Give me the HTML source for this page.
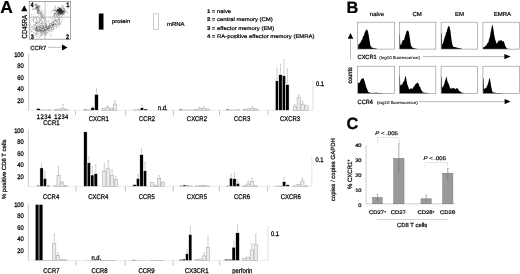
<!DOCTYPE html>
<html><head><meta charset="utf-8"><style>
html,body{margin:0;padding:0;background:#fff;width:520px;height:274px;overflow:hidden}
svg{display:block;font-family:"Liberation Sans",sans-serif;will-change:transform;text-rendering:geometricPrecision} text{stroke:#000;stroke-width:0.22px;paint-order:stroke}
</style></head><body>
<svg width="520" height="274" viewBox="0 0 520 274">
<text transform="translate(0.20,12.60) scale(1,1)" font-size="17.4" text-anchor="start" font-weight="bold" fill="#000" >A</text>
<circle cx="59.46" cy="12.43" r="0.5" fill="#333" opacity="0.45"/>
<circle cx="59.54" cy="10.61" r="0.5" fill="#333" opacity="0.45"/>
<circle cx="57.50" cy="10.83" r="0.5" fill="#333" opacity="0.45"/>
<circle cx="63.42" cy="12.23" r="0.5" fill="#333" opacity="0.45"/>
<circle cx="63.21" cy="11.85" r="0.5" fill="#333" opacity="0.45"/>
<circle cx="61.34" cy="11.71" r="0.5" fill="#333" opacity="0.45"/>
<circle cx="55.37" cy="13.18" r="0.5" fill="#333" opacity="0.45"/>
<circle cx="61.67" cy="12.40" r="0.5" fill="#333" opacity="0.45"/>
<circle cx="55.30" cy="7.46" r="0.5" fill="#333" opacity="0.45"/>
<circle cx="57.62" cy="10.27" r="0.5" fill="#333" opacity="0.45"/>
<circle cx="61.09" cy="11.20" r="0.5" fill="#333" opacity="0.45"/>
<circle cx="61.71" cy="9.89" r="0.5" fill="#333" opacity="0.45"/>
<circle cx="61.10" cy="12.17" r="0.5" fill="#333" opacity="0.45"/>
<circle cx="58.28" cy="15.08" r="0.5" fill="#333" opacity="0.45"/>
<circle cx="61.81" cy="13.93" r="0.5" fill="#333" opacity="0.45"/>
<circle cx="58.40" cy="9.67" r="0.5" fill="#333" opacity="0.45"/>
<circle cx="59.20" cy="11.07" r="0.5" fill="#333" opacity="0.45"/>
<circle cx="62.03" cy="11.85" r="0.5" fill="#333" opacity="0.45"/>
<circle cx="58.90" cy="9.19" r="0.5" fill="#333" opacity="0.45"/>
<circle cx="58.69" cy="13.99" r="0.5" fill="#333" opacity="0.45"/>
<circle cx="57.86" cy="11.84" r="0.5" fill="#333" opacity="0.45"/>
<circle cx="61.44" cy="8.02" r="0.5" fill="#333" opacity="0.45"/>
<circle cx="60.34" cy="14.17" r="0.5" fill="#333" opacity="0.45"/>
<circle cx="54.36" cy="10.59" r="0.5" fill="#333" opacity="0.45"/>
<circle cx="59.89" cy="9.50" r="0.5" fill="#333" opacity="0.45"/>
<circle cx="61.64" cy="11.16" r="0.5" fill="#333" opacity="0.45"/>
<circle cx="55.95" cy="13.12" r="0.5" fill="#333" opacity="0.45"/>
<circle cx="62.14" cy="13.38" r="0.5" fill="#333" opacity="0.45"/>
<circle cx="64.38" cy="12.10" r="0.5" fill="#333" opacity="0.45"/>
<circle cx="60.55" cy="8.44" r="0.5" fill="#333" opacity="0.45"/>
<circle cx="61.98" cy="9.95" r="0.5" fill="#333" opacity="0.45"/>
<circle cx="58.89" cy="8.52" r="0.5" fill="#333" opacity="0.45"/>
<circle cx="57.39" cy="10.13" r="0.5" fill="#333" opacity="0.45"/>
<circle cx="63.94" cy="6.83" r="0.5" fill="#333" opacity="0.45"/>
<circle cx="55.97" cy="11.83" r="0.5" fill="#333" opacity="0.45"/>
<circle cx="64.39" cy="12.57" r="0.5" fill="#333" opacity="0.45"/>
<circle cx="54.69" cy="5.76" r="0.5" fill="#333" opacity="0.45"/>
<circle cx="61.24" cy="9.68" r="0.5" fill="#333" opacity="0.45"/>
<circle cx="56.95" cy="13.45" r="0.5" fill="#333" opacity="0.45"/>
<circle cx="63.40" cy="11.65" r="0.5" fill="#333" opacity="0.45"/>
<circle cx="60.91" cy="12.26" r="0.5" fill="#333" opacity="0.45"/>
<circle cx="64.82" cy="12.66" r="0.5" fill="#333" opacity="0.45"/>
<circle cx="61.70" cy="12.51" r="0.5" fill="#333" opacity="0.45"/>
<circle cx="55.65" cy="14.12" r="0.5" fill="#333" opacity="0.45"/>
<circle cx="62.97" cy="12.47" r="0.5" fill="#333" opacity="0.45"/>
<circle cx="54.48" cy="9.91" r="0.5" fill="#333" opacity="0.45"/>
<circle cx="62.64" cy="7.32" r="0.5" fill="#333" opacity="0.45"/>
<circle cx="59.67" cy="13.54" r="0.5" fill="#333" opacity="0.45"/>
<circle cx="56.40" cy="14.84" r="0.5" fill="#333" opacity="0.45"/>
<circle cx="61.80" cy="10.97" r="0.5" fill="#333" opacity="0.45"/>
<circle cx="61.14" cy="12.73" r="0.5" fill="#333" opacity="0.45"/>
<circle cx="60.55" cy="13.82" r="0.5" fill="#333" opacity="0.45"/>
<circle cx="58.28" cy="10.39" r="0.5" fill="#333" opacity="0.45"/>
<circle cx="63.22" cy="11.36" r="0.5" fill="#333" opacity="0.45"/>
<circle cx="57.65" cy="13.38" r="0.5" fill="#333" opacity="0.45"/>
<circle cx="64.45" cy="10.32" r="0.5" fill="#333" opacity="0.45"/>
<circle cx="56.20" cy="11.00" r="0.5" fill="#333" opacity="0.45"/>
<circle cx="59.77" cy="10.64" r="0.5" fill="#333" opacity="0.45"/>
<circle cx="64.27" cy="9.04" r="0.5" fill="#333" opacity="0.45"/>
<circle cx="63.86" cy="8.51" r="0.5" fill="#333" opacity="0.45"/>
<circle cx="57.92" cy="12.69" r="0.5" fill="#333" opacity="0.45"/>
<circle cx="63.47" cy="13.19" r="0.5" fill="#333" opacity="0.45"/>
<circle cx="61.20" cy="11.61" r="0.5" fill="#333" opacity="0.45"/>
<circle cx="60.64" cy="12.57" r="0.5" fill="#333" opacity="0.45"/>
<circle cx="59.69" cy="11.91" r="0.5" fill="#333" opacity="0.45"/>
<circle cx="61.86" cy="11.30" r="0.5" fill="#333" opacity="0.45"/>
<circle cx="62.42" cy="12.54" r="0.5" fill="#333" opacity="0.45"/>
<circle cx="66.03" cy="12.01" r="0.5" fill="#333" opacity="0.45"/>
<circle cx="58.96" cy="10.48" r="0.5" fill="#333" opacity="0.45"/>
<circle cx="60.16" cy="13.33" r="0.5" fill="#333" opacity="0.45"/>
<circle cx="59.22" cy="12.15" r="0.5" fill="#333" opacity="0.45"/>
<circle cx="56.94" cy="11.84" r="0.5" fill="#333" opacity="0.45"/>
<circle cx="61.36" cy="11.82" r="0.5" fill="#333" opacity="0.45"/>
<circle cx="58.95" cy="12.74" r="0.5" fill="#333" opacity="0.45"/>
<circle cx="61.02" cy="10.15" r="0.5" fill="#333" opacity="0.45"/>
<circle cx="67.25" cy="12.08" r="0.5" fill="#333" opacity="0.45"/>
<circle cx="58.59" cy="11.08" r="0.5" fill="#333" opacity="0.45"/>
<circle cx="59.55" cy="11.16" r="0.5" fill="#333" opacity="0.45"/>
<circle cx="52.29" cy="10.23" r="0.5" fill="#333" opacity="0.45"/>
<circle cx="63.12" cy="8.73" r="0.5" fill="#333" opacity="0.45"/>
<circle cx="60.01" cy="13.40" r="0.5" fill="#333" opacity="0.45"/>
<circle cx="62.68" cy="14.58" r="0.5" fill="#333" opacity="0.45"/>
<circle cx="55.27" cy="10.52" r="0.5" fill="#333" opacity="0.45"/>
<circle cx="59.21" cy="12.67" r="0.5" fill="#333" opacity="0.45"/>
<circle cx="63.37" cy="5.40" r="0.5" fill="#333" opacity="0.45"/>
<circle cx="63.36" cy="8.12" r="0.5" fill="#333" opacity="0.45"/>
<circle cx="62.18" cy="8.02" r="0.5" fill="#333" opacity="0.45"/>
<circle cx="60.71" cy="13.93" r="0.5" fill="#333" opacity="0.45"/>
<circle cx="59.77" cy="11.72" r="0.5" fill="#333" opacity="0.45"/>
<circle cx="62.51" cy="11.61" r="0.5" fill="#333" opacity="0.45"/>
<circle cx="59.94" cy="14.67" r="0.5" fill="#333" opacity="0.45"/>
<circle cx="63.24" cy="10.65" r="0.5" fill="#333" opacity="0.45"/>
<circle cx="68.16" cy="8.78" r="0.5" fill="#333" opacity="0.45"/>
<circle cx="62.85" cy="10.72" r="0.5" fill="#333" opacity="0.45"/>
<circle cx="60.58" cy="12.85" r="0.5" fill="#333" opacity="0.45"/>
<circle cx="60.84" cy="12.71" r="0.5" fill="#333" opacity="0.45"/>
<circle cx="55.77" cy="7.98" r="0.5" fill="#333" opacity="0.45"/>
<circle cx="61.98" cy="9.18" r="0.5" fill="#333" opacity="0.45"/>
<circle cx="57.22" cy="8.07" r="0.5" fill="#333" opacity="0.45"/>
<circle cx="63.87" cy="12.94" r="0.5" fill="#333" opacity="0.45"/>
<circle cx="64.47" cy="9.24" r="0.5" fill="#333" opacity="0.45"/>
<circle cx="60.20" cy="8.79" r="0.5" fill="#333" opacity="0.45"/>
<circle cx="62.42" cy="14.80" r="0.5" fill="#333" opacity="0.45"/>
<circle cx="57.62" cy="14.73" r="0.5" fill="#333" opacity="0.45"/>
<circle cx="63.07" cy="10.91" r="0.5" fill="#333" opacity="0.45"/>
<circle cx="54.48" cy="14.39" r="0.5" fill="#333" opacity="0.45"/>
<circle cx="59.92" cy="9.97" r="0.5" fill="#333" opacity="0.45"/>
<circle cx="61.36" cy="12.20" r="0.5" fill="#333" opacity="0.45"/>
<circle cx="64.54" cy="9.06" r="0.5" fill="#333" opacity="0.45"/>
<circle cx="63.50" cy="14.57" r="0.5" fill="#333" opacity="0.45"/>
<circle cx="64.41" cy="10.90" r="0.5" fill="#333" opacity="0.45"/>
<circle cx="58.04" cy="13.54" r="0.5" fill="#333" opacity="0.45"/>
<circle cx="60.53" cy="11.57" r="0.5" fill="#333" opacity="0.45"/>
<circle cx="64.33" cy="10.72" r="0.5" fill="#333" opacity="0.45"/>
<circle cx="53.54" cy="10.45" r="0.5" fill="#333" opacity="0.45"/>
<circle cx="54.82" cy="13.10" r="0.5" fill="#333" opacity="0.45"/>
<circle cx="61.12" cy="9.96" r="0.5" fill="#333" opacity="0.45"/>
<circle cx="60.17" cy="13.13" r="0.5" fill="#333" opacity="0.45"/>
<circle cx="60.43" cy="14.22" r="0.5" fill="#333" opacity="0.45"/>
<circle cx="60.02" cy="13.59" r="0.5" fill="#333" opacity="0.45"/>
<circle cx="64.53" cy="14.84" r="0.5" fill="#333" opacity="0.45"/>
<circle cx="58.25" cy="13.24" r="0.5" fill="#333" opacity="0.45"/>
<circle cx="54.76" cy="8.92" r="0.5" fill="#333" opacity="0.45"/>
<circle cx="54.51" cy="13.65" r="0.5" fill="#333" opacity="0.45"/>
<circle cx="56.63" cy="11.27" r="0.5" fill="#333" opacity="0.45"/>
<circle cx="59.64" cy="11.24" r="0.5" fill="#333" opacity="0.45"/>
<circle cx="58.48" cy="11.81" r="0.5" fill="#333" opacity="0.45"/>
<circle cx="65.39" cy="11.40" r="0.5" fill="#333" opacity="0.45"/>
<circle cx="61.74" cy="13.50" r="0.5" fill="#333" opacity="0.45"/>
<circle cx="59.63" cy="8.53" r="0.5" fill="#333" opacity="0.45"/>
<circle cx="58.59" cy="13.66" r="0.5" fill="#333" opacity="0.45"/>
<circle cx="55.43" cy="9.98" r="0.5" fill="#333" opacity="0.45"/>
<circle cx="63.12" cy="13.04" r="0.5" fill="#333" opacity="0.45"/>
<circle cx="60.22" cy="13.07" r="0.5" fill="#333" opacity="0.45"/>
<circle cx="60.68" cy="8.71" r="0.5" fill="#333" opacity="0.45"/>
<circle cx="55.66" cy="9.89" r="0.5" fill="#333" opacity="0.45"/>
<circle cx="62.88" cy="10.06" r="0.5" fill="#333" opacity="0.45"/>
<circle cx="57.58" cy="9.60" r="0.5" fill="#333" opacity="0.45"/>
<circle cx="55.76" cy="11.04" r="0.5" fill="#333" opacity="0.45"/>
<circle cx="56.78" cy="12.10" r="0.5" fill="#333" opacity="0.45"/>
<circle cx="53.36" cy="12.02" r="0.5" fill="#333" opacity="0.45"/>
<circle cx="58.34" cy="7.03" r="0.5" fill="#333" opacity="0.45"/>
<circle cx="62.30" cy="10.69" r="0.5" fill="#333" opacity="0.45"/>
<circle cx="53.73" cy="9.37" r="0.5" fill="#333" opacity="0.45"/>
<circle cx="61.04" cy="10.29" r="0.5" fill="#333" opacity="0.45"/>
<circle cx="62.46" cy="12.94" r="0.5" fill="#333" opacity="0.45"/>
<circle cx="62.13" cy="12.02" r="0.5" fill="#333" opacity="0.45"/>
<circle cx="64.07" cy="12.75" r="0.5" fill="#333" opacity="0.45"/>
<circle cx="61.51" cy="6.72" r="0.5" fill="#333" opacity="0.45"/>
<circle cx="62.80" cy="14.18" r="0.5" fill="#333" opacity="0.45"/>
<circle cx="59.34" cy="10.27" r="0.5" fill="#333" opacity="0.45"/>
<circle cx="61.56" cy="16.63" r="0.5" fill="#333" opacity="0.45"/>
<circle cx="57.51" cy="12.82" r="0.5" fill="#333" opacity="0.45"/>
<circle cx="65.67" cy="11.04" r="0.5" fill="#333" opacity="0.45"/>
<circle cx="61.83" cy="13.29" r="0.5" fill="#333" opacity="0.45"/>
<circle cx="57.57" cy="11.10" r="0.5" fill="#333" opacity="0.45"/>
<circle cx="61.05" cy="13.12" r="0.5" fill="#333" opacity="0.45"/>
<circle cx="60.10" cy="10.87" r="0.5" fill="#333" opacity="0.45"/>
<circle cx="57.25" cy="10.51" r="0.5" fill="#333" opacity="0.45"/>
<circle cx="62.79" cy="11.52" r="0.5" fill="#333" opacity="0.45"/>
<circle cx="57.73" cy="9.45" r="0.5" fill="#333" opacity="0.45"/>
<circle cx="67.93" cy="13.81" r="0.5" fill="#333" opacity="0.45"/>
<circle cx="62.05" cy="5.60" r="0.5" fill="#333" opacity="0.45"/>
<circle cx="62.00" cy="12.36" r="0.5" fill="#333" opacity="0.45"/>
<circle cx="65.08" cy="12.24" r="0.5" fill="#333" opacity="0.45"/>
<circle cx="60.00" cy="12.45" r="0.5" fill="#333" opacity="0.45"/>
<circle cx="54.56" cy="13.57" r="0.5" fill="#333" opacity="0.45"/>
<circle cx="61.14" cy="9.76" r="0.5" fill="#333" opacity="0.45"/>
<circle cx="61.99" cy="12.97" r="0.5" fill="#222" opacity="0.6"/>
<circle cx="57.90" cy="10.00" r="0.5" fill="#222" opacity="0.6"/>
<circle cx="60.44" cy="11.02" r="0.5" fill="#222" opacity="0.6"/>
<circle cx="59.40" cy="9.63" r="0.5" fill="#222" opacity="0.6"/>
<circle cx="63.18" cy="12.04" r="0.5" fill="#222" opacity="0.6"/>
<circle cx="58.21" cy="9.19" r="0.5" fill="#222" opacity="0.6"/>
<circle cx="62.55" cy="11.99" r="0.5" fill="#222" opacity="0.6"/>
<circle cx="62.73" cy="11.77" r="0.5" fill="#222" opacity="0.6"/>
<circle cx="58.69" cy="11.11" r="0.5" fill="#222" opacity="0.6"/>
<circle cx="56.76" cy="9.90" r="0.5" fill="#222" opacity="0.6"/>
<circle cx="59.91" cy="11.43" r="0.5" fill="#222" opacity="0.6"/>
<circle cx="58.91" cy="10.65" r="0.5" fill="#222" opacity="0.6"/>
<circle cx="60.69" cy="11.25" r="0.5" fill="#222" opacity="0.6"/>
<circle cx="60.96" cy="11.05" r="0.5" fill="#222" opacity="0.6"/>
<circle cx="59.51" cy="11.75" r="0.5" fill="#222" opacity="0.6"/>
<circle cx="60.07" cy="9.81" r="0.5" fill="#222" opacity="0.6"/>
<circle cx="59.06" cy="10.80" r="0.5" fill="#222" opacity="0.6"/>
<circle cx="59.84" cy="10.99" r="0.5" fill="#222" opacity="0.6"/>
<circle cx="60.00" cy="11.01" r="0.5" fill="#222" opacity="0.6"/>
<circle cx="59.80" cy="9.29" r="0.5" fill="#222" opacity="0.6"/>
<circle cx="60.63" cy="12.06" r="0.5" fill="#222" opacity="0.6"/>
<circle cx="60.65" cy="10.57" r="0.5" fill="#222" opacity="0.6"/>
<circle cx="60.67" cy="9.64" r="0.5" fill="#222" opacity="0.6"/>
<circle cx="57.16" cy="10.87" r="0.5" fill="#222" opacity="0.6"/>
<circle cx="58.60" cy="11.69" r="0.5" fill="#222" opacity="0.6"/>
<circle cx="58.37" cy="7.65" r="0.5" fill="#222" opacity="0.6"/>
<circle cx="58.44" cy="12.69" r="0.5" fill="#222" opacity="0.6"/>
<circle cx="59.43" cy="9.16" r="0.5" fill="#222" opacity="0.6"/>
<circle cx="58.85" cy="11.43" r="0.5" fill="#222" opacity="0.6"/>
<circle cx="60.75" cy="11.01" r="0.5" fill="#222" opacity="0.6"/>
<circle cx="62.23" cy="11.65" r="0.5" fill="#222" opacity="0.6"/>
<circle cx="59.97" cy="11.52" r="0.5" fill="#222" opacity="0.6"/>
<circle cx="62.48" cy="11.97" r="0.5" fill="#222" opacity="0.6"/>
<circle cx="61.54" cy="9.50" r="0.5" fill="#222" opacity="0.6"/>
<circle cx="59.78" cy="11.68" r="0.5" fill="#222" opacity="0.6"/>
<circle cx="59.56" cy="12.08" r="0.5" fill="#222" opacity="0.6"/>
<circle cx="60.89" cy="11.89" r="0.5" fill="#222" opacity="0.6"/>
<circle cx="59.68" cy="13.86" r="0.5" fill="#222" opacity="0.6"/>
<circle cx="61.86" cy="10.54" r="0.5" fill="#222" opacity="0.6"/>
<circle cx="60.14" cy="13.91" r="0.5" fill="#222" opacity="0.6"/>
<circle cx="59.49" cy="11.85" r="0.5" fill="#222" opacity="0.6"/>
<circle cx="61.47" cy="10.81" r="0.5" fill="#222" opacity="0.6"/>
<circle cx="58.25" cy="11.03" r="0.5" fill="#222" opacity="0.6"/>
<circle cx="60.54" cy="12.16" r="0.5" fill="#222" opacity="0.6"/>
<circle cx="61.17" cy="10.83" r="0.5" fill="#222" opacity="0.6"/>
<circle cx="61.28" cy="11.45" r="0.5" fill="#222" opacity="0.6"/>
<circle cx="60.31" cy="10.87" r="0.5" fill="#222" opacity="0.6"/>
<circle cx="59.63" cy="11.62" r="0.5" fill="#222" opacity="0.6"/>
<circle cx="58.42" cy="10.05" r="0.5" fill="#222" opacity="0.6"/>
<circle cx="60.01" cy="9.04" r="0.5" fill="#222" opacity="0.6"/>
<circle cx="59.35" cy="8.39" r="0.5" fill="#222" opacity="0.6"/>
<circle cx="58.98" cy="11.48" r="0.5" fill="#222" opacity="0.6"/>
<circle cx="60.85" cy="10.73" r="0.5" fill="#222" opacity="0.6"/>
<circle cx="59.65" cy="9.10" r="0.5" fill="#222" opacity="0.6"/>
<circle cx="62.74" cy="11.42" r="0.5" fill="#222" opacity="0.6"/>
<circle cx="61.64" cy="9.74" r="0.5" fill="#222" opacity="0.6"/>
<circle cx="59.72" cy="8.62" r="0.5" fill="#222" opacity="0.6"/>
<circle cx="61.17" cy="11.92" r="0.5" fill="#222" opacity="0.6"/>
<circle cx="57.15" cy="10.74" r="0.5" fill="#222" opacity="0.6"/>
<circle cx="60.95" cy="8.69" r="0.5" fill="#222" opacity="0.6"/>
<circle cx="57.26" cy="9.52" r="0.5" fill="#222" opacity="0.6"/>
<circle cx="59.06" cy="9.12" r="0.5" fill="#222" opacity="0.6"/>
<circle cx="60.05" cy="11.10" r="0.5" fill="#222" opacity="0.6"/>
<circle cx="60.95" cy="11.64" r="0.5" fill="#222" opacity="0.6"/>
<circle cx="62.25" cy="12.20" r="0.5" fill="#222" opacity="0.6"/>
<circle cx="58.03" cy="10.19" r="0.5" fill="#222" opacity="0.6"/>
<circle cx="58.41" cy="9.51" r="0.5" fill="#222" opacity="0.6"/>
<circle cx="59.88" cy="10.81" r="0.5" fill="#222" opacity="0.6"/>
<circle cx="60.74" cy="8.90" r="0.5" fill="#222" opacity="0.6"/>
<circle cx="58.14" cy="10.77" r="0.5" fill="#222" opacity="0.6"/>
<circle cx="59.70" cy="10.43" r="0.5" fill="#222" opacity="0.6"/>
<circle cx="59.91" cy="9.89" r="0.5" fill="#222" opacity="0.6"/>
<circle cx="61.05" cy="11.23" r="0.5" fill="#222" opacity="0.6"/>
<circle cx="59.87" cy="9.99" r="0.5" fill="#222" opacity="0.6"/>
<circle cx="59.74" cy="7.53" r="0.5" fill="#222" opacity="0.6"/>
<circle cx="58.53" cy="10.84" r="0.5" fill="#222" opacity="0.6"/>
<circle cx="57.74" cy="11.04" r="0.5" fill="#222" opacity="0.6"/>
<circle cx="60.22" cy="9.15" r="0.5" fill="#222" opacity="0.6"/>
<circle cx="59.62" cy="10.42" r="0.5" fill="#222" opacity="0.6"/>
<circle cx="60.69" cy="11.53" r="0.5" fill="#222" opacity="0.6"/>
<circle cx="59.95" cy="9.78" r="0.5" fill="#222" opacity="0.6"/>
<circle cx="59.78" cy="10.72" r="0.5" fill="#222" opacity="0.6"/>
<circle cx="61.10" cy="11.15" r="0.5" fill="#222" opacity="0.6"/>
<circle cx="58.92" cy="9.17" r="0.5" fill="#222" opacity="0.6"/>
<circle cx="59.44" cy="9.91" r="0.5" fill="#222" opacity="0.6"/>
<circle cx="58.33" cy="10.66" r="0.5" fill="#222" opacity="0.6"/>
<circle cx="59.26" cy="10.93" r="0.5" fill="#222" opacity="0.6"/>
<circle cx="60.78" cy="10.30" r="0.5" fill="#222" opacity="0.6"/>
<circle cx="63.49" cy="10.41" r="0.5" fill="#222" opacity="0.6"/>
<circle cx="61.65" cy="10.95" r="0.5" fill="#222" opacity="0.6"/>
<circle cx="60.91" cy="9.77" r="0.45" fill="#555" opacity="0.4"/>
<circle cx="54.37" cy="15.54" r="0.45" fill="#555" opacity="0.4"/>
<circle cx="59.11" cy="20.14" r="0.45" fill="#555" opacity="0.4"/>
<circle cx="58.13" cy="17.82" r="0.45" fill="#555" opacity="0.4"/>
<circle cx="59.68" cy="17.08" r="0.45" fill="#555" opacity="0.4"/>
<circle cx="58.79" cy="14.66" r="0.45" fill="#555" opacity="0.4"/>
<circle cx="58.78" cy="12.63" r="0.45" fill="#555" opacity="0.4"/>
<circle cx="61.13" cy="12.76" r="0.45" fill="#555" opacity="0.4"/>
<circle cx="57.87" cy="19.67" r="0.45" fill="#555" opacity="0.4"/>
<circle cx="56.22" cy="15.04" r="0.45" fill="#555" opacity="0.4"/>
<circle cx="61.07" cy="15.06" r="0.45" fill="#555" opacity="0.4"/>
<circle cx="54.17" cy="15.57" r="0.45" fill="#555" opacity="0.4"/>
<circle cx="59.04" cy="16.56" r="0.45" fill="#555" opacity="0.4"/>
<circle cx="54.30" cy="18.86" r="0.45" fill="#555" opacity="0.4"/>
<circle cx="62.83" cy="15.04" r="0.45" fill="#555" opacity="0.4"/>
<circle cx="57.94" cy="14.06" r="0.45" fill="#555" opacity="0.4"/>
<circle cx="61.95" cy="13.45" r="0.45" fill="#555" opacity="0.4"/>
<circle cx="59.36" cy="13.94" r="0.45" fill="#555" opacity="0.4"/>
<circle cx="54.57" cy="16.58" r="0.45" fill="#555" opacity="0.4"/>
<circle cx="61.67" cy="14.98" r="0.45" fill="#555" opacity="0.4"/>
<circle cx="54.63" cy="16.79" r="0.45" fill="#555" opacity="0.4"/>
<circle cx="56.83" cy="15.68" r="0.45" fill="#555" opacity="0.4"/>
<circle cx="62.33" cy="17.49" r="0.45" fill="#555" opacity="0.4"/>
<circle cx="55.18" cy="20.02" r="0.45" fill="#555" opacity="0.4"/>
<circle cx="57.01" cy="16.73" r="0.45" fill="#555" opacity="0.4"/>
<circle cx="54.73" cy="14.90" r="0.45" fill="#555" opacity="0.4"/>
<circle cx="50.88" cy="18.93" r="0.45" fill="#555" opacity="0.4"/>
<circle cx="61.78" cy="12.33" r="0.45" fill="#555" opacity="0.4"/>
<circle cx="51.73" cy="11.43" r="0.45" fill="#555" opacity="0.4"/>
<circle cx="61.12" cy="13.99" r="0.45" fill="#555" opacity="0.4"/>
<circle cx="56.79" cy="14.31" r="0.45" fill="#555" opacity="0.4"/>
<circle cx="56.58" cy="12.61" r="0.45" fill="#555" opacity="0.4"/>
<circle cx="57.08" cy="11.84" r="0.45" fill="#555" opacity="0.4"/>
<circle cx="56.75" cy="15.68" r="0.45" fill="#555" opacity="0.4"/>
<circle cx="58.64" cy="14.49" r="0.45" fill="#555" opacity="0.4"/>
<circle cx="53.84" cy="15.35" r="0.45" fill="#555" opacity="0.4"/>
<circle cx="55.30" cy="18.44" r="0.45" fill="#555" opacity="0.4"/>
<circle cx="59.69" cy="14.75" r="0.45" fill="#555" opacity="0.4"/>
<circle cx="55.35" cy="13.45" r="0.45" fill="#555" opacity="0.4"/>
<circle cx="53.72" cy="14.22" r="0.45" fill="#555" opacity="0.4"/>
<circle cx="58.03" cy="16.13" r="0.45" fill="#555" opacity="0.4"/>
<circle cx="58.99" cy="19.62" r="0.45" fill="#555" opacity="0.4"/>
<circle cx="54.53" cy="15.03" r="0.45" fill="#555" opacity="0.4"/>
<circle cx="66.78" cy="10.89" r="0.45" fill="#555" opacity="0.4"/>
<circle cx="55.17" cy="15.37" r="0.45" fill="#555" opacity="0.4"/>
<circle cx="57.54" cy="15.90" r="0.45" fill="#555" opacity="0.4"/>
<circle cx="56.16" cy="15.81" r="0.45" fill="#555" opacity="0.4"/>
<circle cx="57.18" cy="16.70" r="0.45" fill="#555" opacity="0.4"/>
<circle cx="50.38" cy="13.05" r="0.45" fill="#555" opacity="0.4"/>
<circle cx="56.99" cy="12.73" r="0.45" fill="#555" opacity="0.4"/>
<circle cx="53.34" cy="16.38" r="0.45" fill="#555" opacity="0.4"/>
<circle cx="54.73" cy="16.40" r="0.45" fill="#555" opacity="0.4"/>
<circle cx="59.61" cy="15.67" r="0.45" fill="#555" opacity="0.4"/>
<circle cx="58.78" cy="14.77" r="0.45" fill="#555" opacity="0.4"/>
<circle cx="52.07" cy="14.93" r="0.45" fill="#555" opacity="0.4"/>
<circle cx="58.59" cy="13.84" r="0.45" fill="#555" opacity="0.4"/>
<circle cx="56.65" cy="16.65" r="0.45" fill="#555" opacity="0.4"/>
<circle cx="53.93" cy="16.41" r="0.45" fill="#555" opacity="0.4"/>
<circle cx="63.52" cy="13.78" r="0.45" fill="#555" opacity="0.4"/>
<circle cx="57.51" cy="14.67" r="0.45" fill="#555" opacity="0.4"/>
<circle cx="37.73" cy="10.16" r="0.45" fill="#333" opacity="0.45"/>
<circle cx="39.87" cy="7.71" r="0.45" fill="#333" opacity="0.45"/>
<circle cx="42.46" cy="14.53" r="0.45" fill="#333" opacity="0.45"/>
<circle cx="35.65" cy="7.61" r="0.45" fill="#333" opacity="0.45"/>
<circle cx="42.18" cy="11.65" r="0.45" fill="#333" opacity="0.45"/>
<circle cx="39.50" cy="10.29" r="0.45" fill="#333" opacity="0.45"/>
<circle cx="41.34" cy="11.89" r="0.45" fill="#333" opacity="0.45"/>
<circle cx="37.74" cy="6.04" r="0.45" fill="#333" opacity="0.45"/>
<circle cx="37.13" cy="9.13" r="0.45" fill="#333" opacity="0.45"/>
<circle cx="38.96" cy="11.30" r="0.45" fill="#333" opacity="0.45"/>
<circle cx="37.37" cy="11.56" r="0.45" fill="#333" opacity="0.45"/>
<circle cx="39.96" cy="13.06" r="0.45" fill="#333" opacity="0.45"/>
<circle cx="37.90" cy="11.55" r="0.45" fill="#333" opacity="0.45"/>
<circle cx="41.74" cy="14.55" r="0.45" fill="#333" opacity="0.45"/>
<circle cx="37.17" cy="12.21" r="0.45" fill="#333" opacity="0.45"/>
<circle cx="41.89" cy="16.07" r="0.45" fill="#333" opacity="0.45"/>
<circle cx="34.28" cy="9.86" r="0.45" fill="#333" opacity="0.45"/>
<circle cx="36.09" cy="4.05" r="0.45" fill="#333" opacity="0.45"/>
<circle cx="39.29" cy="15.13" r="0.45" fill="#333" opacity="0.45"/>
<circle cx="36.83" cy="7.06" r="0.45" fill="#333" opacity="0.45"/>
<circle cx="35.59" cy="5.66" r="0.45" fill="#333" opacity="0.45"/>
<circle cx="40.97" cy="15.95" r="0.45" fill="#333" opacity="0.45"/>
<circle cx="33.33" cy="8.51" r="0.45" fill="#333" opacity="0.45"/>
<circle cx="43.07" cy="17.32" r="0.45" fill="#333" opacity="0.45"/>
<circle cx="36.34" cy="6.89" r="0.45" fill="#333" opacity="0.45"/>
<circle cx="35.55" cy="5.79" r="0.45" fill="#333" opacity="0.45"/>
<circle cx="43.64" cy="13.32" r="0.45" fill="#333" opacity="0.45"/>
<circle cx="43.86" cy="15.80" r="0.45" fill="#333" opacity="0.45"/>
<circle cx="37.76" cy="5.56" r="0.45" fill="#333" opacity="0.45"/>
<circle cx="36.36" cy="9.94" r="0.45" fill="#333" opacity="0.45"/>
<circle cx="45.23" cy="19.22" r="0.45" fill="#333" opacity="0.45"/>
<circle cx="33.41" cy="9.61" r="0.45" fill="#333" opacity="0.45"/>
<circle cx="40.41" cy="14.60" r="0.45" fill="#333" opacity="0.45"/>
<circle cx="35.10" cy="13.08" r="0.45" fill="#333" opacity="0.45"/>
<circle cx="32.85" cy="9.71" r="0.45" fill="#333" opacity="0.45"/>
<circle cx="40.84" cy="13.82" r="0.45" fill="#333" opacity="0.45"/>
<circle cx="35.21" cy="4.58" r="0.45" fill="#333" opacity="0.45"/>
<circle cx="41.47" cy="12.49" r="0.45" fill="#333" opacity="0.45"/>
<circle cx="38.22" cy="7.11" r="0.45" fill="#333" opacity="0.45"/>
<circle cx="35.55" cy="6.11" r="0.45" fill="#333" opacity="0.45"/>
<circle cx="38.83" cy="7.88" r="0.45" fill="#333" opacity="0.45"/>
<circle cx="39.04" cy="12.28" r="0.45" fill="#333" opacity="0.45"/>
<circle cx="43.72" cy="15.47" r="0.45" fill="#333" opacity="0.45"/>
<circle cx="43.11" cy="18.60" r="0.45" fill="#333" opacity="0.45"/>
<circle cx="41.44" cy="10.58" r="0.45" fill="#333" opacity="0.45"/>
<circle cx="38.26" cy="13.18" r="0.45" fill="#333" opacity="0.45"/>
<circle cx="36.90" cy="8.13" r="0.45" fill="#333" opacity="0.45"/>
<circle cx="35.30" cy="5.51" r="0.45" fill="#333" opacity="0.45"/>
<circle cx="36.19" cy="5.76" r="0.45" fill="#333" opacity="0.45"/>
<circle cx="39.93" cy="7.95" r="0.45" fill="#333" opacity="0.45"/>
<circle cx="42.32" cy="17.10" r="0.45" fill="#333" opacity="0.45"/>
<circle cx="37.70" cy="11.72" r="0.45" fill="#333" opacity="0.45"/>
<circle cx="37.79" cy="9.29" r="0.45" fill="#333" opacity="0.45"/>
<circle cx="40.68" cy="13.88" r="0.45" fill="#333" opacity="0.45"/>
<circle cx="40.47" cy="16.83" r="0.45" fill="#333" opacity="0.45"/>
<circle cx="36.77" cy="7.78" r="0.45" fill="#333" opacity="0.45"/>
<circle cx="35.76" cy="8.51" r="0.45" fill="#333" opacity="0.45"/>
<circle cx="40.13" cy="14.35" r="0.45" fill="#333" opacity="0.45"/>
<circle cx="39.09" cy="9.15" r="0.45" fill="#333" opacity="0.45"/>
<circle cx="36.47" cy="4.83" r="0.45" fill="#333" opacity="0.45"/>
<circle cx="43.96" cy="17.62" r="0.45" fill="#333" opacity="0.45"/>
<circle cx="42.90" cy="10.97" r="0.45" fill="#333" opacity="0.45"/>
<circle cx="37.42" cy="6.37" r="0.45" fill="#333" opacity="0.45"/>
<circle cx="39.50" cy="18.26" r="0.45" fill="#333" opacity="0.45"/>
<circle cx="37.36" cy="13.01" r="0.45" fill="#333" opacity="0.45"/>
<circle cx="43.81" cy="17.34" r="0.45" fill="#333" opacity="0.45"/>
<circle cx="39.41" cy="13.63" r="0.45" fill="#333" opacity="0.45"/>
<circle cx="38.23" cy="10.70" r="0.45" fill="#333" opacity="0.45"/>
<circle cx="40.07" cy="13.85" r="0.45" fill="#333" opacity="0.45"/>
<circle cx="40.11" cy="12.75" r="0.45" fill="#333" opacity="0.45"/>
<circle cx="38.59" cy="13.63" r="0.45" fill="#333" opacity="0.45"/>
<circle cx="37.68" cy="7.74" r="0.45" fill="#333" opacity="0.45"/>
<circle cx="37.50" cy="12.76" r="0.45" fill="#333" opacity="0.45"/>
<circle cx="42.89" cy="14.83" r="0.45" fill="#333" opacity="0.45"/>
<circle cx="37.96" cy="16.42" r="0.45" fill="#333" opacity="0.45"/>
<circle cx="37.80" cy="10.30" r="0.45" fill="#333" opacity="0.45"/>
<circle cx="36.10" cy="8.07" r="0.45" fill="#333" opacity="0.45"/>
<circle cx="38.88" cy="11.72" r="0.45" fill="#333" opacity="0.45"/>
<circle cx="38.92" cy="10.36" r="0.45" fill="#333" opacity="0.45"/>
<circle cx="39.41" cy="5.96" r="0.45" fill="#333" opacity="0.45"/>
<circle cx="38.12" cy="9.95" r="0.45" fill="#333" opacity="0.45"/>
<circle cx="41.72" cy="16.27" r="0.45" fill="#333" opacity="0.45"/>
<circle cx="39.03" cy="18.14" r="0.45" fill="#333" opacity="0.45"/>
<circle cx="39.54" cy="10.99" r="0.45" fill="#333" opacity="0.45"/>
<circle cx="40.87" cy="15.73" r="0.45" fill="#333" opacity="0.45"/>
<circle cx="41.63" cy="13.65" r="0.45" fill="#333" opacity="0.45"/>
<circle cx="37.87" cy="10.05" r="0.45" fill="#333" opacity="0.45"/>
<circle cx="40.42" cy="12.88" r="0.45" fill="#333" opacity="0.45"/>
<circle cx="38.58" cy="10.75" r="0.45" fill="#333" opacity="0.45"/>
<circle cx="42.74" cy="16.20" r="0.45" fill="#333" opacity="0.45"/>
<circle cx="37.44" cy="10.00" r="0.45" fill="#333" opacity="0.45"/>
<circle cx="35.73" cy="8.60" r="0.45" fill="#333" opacity="0.45"/>
<circle cx="37.70" cy="13.04" r="0.45" fill="#333" opacity="0.45"/>
<circle cx="35.87" cy="4.20" r="0.45" fill="#333" opacity="0.45"/>
<circle cx="38.45" cy="11.84" r="0.45" fill="#333" opacity="0.45"/>
<circle cx="35.71" cy="7.16" r="0.45" fill="#333" opacity="0.45"/>
<circle cx="40.45" cy="11.18" r="0.45" fill="#333" opacity="0.45"/>
<circle cx="44.26" cy="18.59" r="0.45" fill="#333" opacity="0.45"/>
<circle cx="42.11" cy="13.17" r="0.45" fill="#333" opacity="0.45"/>
<circle cx="37.21" cy="6.58" r="0.45" fill="#333" opacity="0.45"/>
<circle cx="42.99" cy="15.44" r="0.45" fill="#333" opacity="0.45"/>
<circle cx="41.16" cy="13.68" r="0.45" fill="#333" opacity="0.45"/>
<circle cx="36.70" cy="7.65" r="0.45" fill="#333" opacity="0.45"/>
<circle cx="41.08" cy="18.53" r="0.45" fill="#333" opacity="0.45"/>
<circle cx="35.21" cy="9.13" r="0.45" fill="#333" opacity="0.45"/>
<circle cx="37.42" cy="8.59" r="0.45" fill="#333" opacity="0.45"/>
<circle cx="37.31" cy="5.38" r="0.45" fill="#333" opacity="0.45"/>
<circle cx="43.01" cy="18.00" r="0.45" fill="#333" opacity="0.45"/>
<circle cx="38.25" cy="7.18" r="0.45" fill="#333" opacity="0.45"/>
<circle cx="39.31" cy="10.89" r="0.45" fill="#333" opacity="0.45"/>
<circle cx="41.27" cy="15.10" r="0.45" fill="#333" opacity="0.45"/>
<circle cx="40.20" cy="19.54" r="0.45" fill="#333" opacity="0.45"/>
<circle cx="36.85" cy="13.78" r="0.45" fill="#333" opacity="0.45"/>
<circle cx="38.73" cy="12.47" r="0.45" fill="#333" opacity="0.45"/>
<circle cx="41.50" cy="11.93" r="0.45" fill="#333" opacity="0.45"/>
<circle cx="39.43" cy="12.56" r="0.45" fill="#333" opacity="0.45"/>
<circle cx="33.79" cy="9.38" r="0.45" fill="#333" opacity="0.45"/>
<circle cx="35.04" cy="8.68" r="0.45" fill="#333" opacity="0.45"/>
<circle cx="35.29" cy="4.80" r="0.45" fill="#333" opacity="0.45"/>
<circle cx="37.78" cy="10.86" r="0.45" fill="#333" opacity="0.45"/>
<circle cx="38.21" cy="12.14" r="0.45" fill="#333" opacity="0.45"/>
<circle cx="41.97" cy="16.76" r="0.45" fill="#333" opacity="0.45"/>
<circle cx="46.32" cy="30.54" r="0.45" fill="#333" opacity="0.42"/>
<circle cx="46.49" cy="20.19" r="0.45" fill="#333" opacity="0.42"/>
<circle cx="35.79" cy="28.76" r="0.45" fill="#333" opacity="0.42"/>
<circle cx="47.82" cy="27.02" r="0.45" fill="#333" opacity="0.42"/>
<circle cx="34.52" cy="24.73" r="0.45" fill="#333" opacity="0.42"/>
<circle cx="35.67" cy="22.21" r="0.45" fill="#333" opacity="0.42"/>
<circle cx="48.21" cy="23.37" r="0.45" fill="#333" opacity="0.42"/>
<circle cx="39.62" cy="37.31" r="0.45" fill="#333" opacity="0.42"/>
<circle cx="46.37" cy="28.18" r="0.45" fill="#333" opacity="0.42"/>
<circle cx="35.95" cy="28.55" r="0.45" fill="#333" opacity="0.42"/>
<circle cx="48.91" cy="29.62" r="0.45" fill="#333" opacity="0.42"/>
<circle cx="46.82" cy="26.99" r="0.45" fill="#333" opacity="0.42"/>
<circle cx="42.49" cy="25.50" r="0.45" fill="#333" opacity="0.42"/>
<circle cx="41.98" cy="33.00" r="0.45" fill="#333" opacity="0.42"/>
<circle cx="31.20" cy="26.19" r="0.45" fill="#333" opacity="0.42"/>
<circle cx="40.89" cy="23.64" r="0.45" fill="#333" opacity="0.42"/>
<circle cx="37.71" cy="30.43" r="0.45" fill="#333" opacity="0.42"/>
<circle cx="51.11" cy="29.65" r="0.45" fill="#333" opacity="0.42"/>
<circle cx="41.39" cy="18.74" r="0.45" fill="#333" opacity="0.42"/>
<circle cx="50.68" cy="26.88" r="0.45" fill="#333" opacity="0.42"/>
<circle cx="39.30" cy="20.91" r="0.45" fill="#333" opacity="0.42"/>
<circle cx="39.17" cy="21.02" r="0.45" fill="#333" opacity="0.42"/>
<circle cx="39.91" cy="28.83" r="0.45" fill="#333" opacity="0.42"/>
<circle cx="39.68" cy="27.90" r="0.45" fill="#333" opacity="0.42"/>
<circle cx="35.71" cy="17.41" r="0.45" fill="#333" opacity="0.42"/>
<circle cx="38.41" cy="22.68" r="0.45" fill="#333" opacity="0.42"/>
<circle cx="33.64" cy="24.73" r="0.45" fill="#333" opacity="0.42"/>
<circle cx="41.19" cy="20.59" r="0.45" fill="#333" opacity="0.42"/>
<circle cx="38.70" cy="33.63" r="0.45" fill="#333" opacity="0.42"/>
<circle cx="43.46" cy="25.74" r="0.45" fill="#333" opacity="0.42"/>
<circle cx="40.24" cy="25.90" r="0.45" fill="#333" opacity="0.42"/>
<circle cx="39.22" cy="30.16" r="0.45" fill="#333" opacity="0.42"/>
<circle cx="38.96" cy="14.48" r="0.45" fill="#333" opacity="0.42"/>
<circle cx="39.38" cy="22.05" r="0.45" fill="#333" opacity="0.42"/>
<circle cx="43.28" cy="23.45" r="0.45" fill="#333" opacity="0.42"/>
<circle cx="40.36" cy="37.39" r="0.45" fill="#333" opacity="0.42"/>
<circle cx="33.43" cy="20.88" r="0.45" fill="#333" opacity="0.42"/>
<circle cx="31.31" cy="14.53" r="0.45" fill="#333" opacity="0.42"/>
<circle cx="35.80" cy="17.16" r="0.45" fill="#333" opacity="0.42"/>
<circle cx="30.90" cy="29.59" r="0.45" fill="#333" opacity="0.42"/>
<circle cx="35.00" cy="24.67" r="0.45" fill="#333" opacity="0.42"/>
<circle cx="41.42" cy="33.28" r="0.45" fill="#333" opacity="0.42"/>
<circle cx="50.76" cy="31.66" r="0.45" fill="#333" opacity="0.42"/>
<circle cx="40.33" cy="27.42" r="0.45" fill="#333" opacity="0.42"/>
<circle cx="49.95" cy="33.64" r="0.45" fill="#333" opacity="0.42"/>
<circle cx="37.70" cy="28.79" r="0.45" fill="#333" opacity="0.42"/>
<circle cx="41.16" cy="26.76" r="0.45" fill="#333" opacity="0.42"/>
<circle cx="36.60" cy="19.87" r="0.45" fill="#333" opacity="0.42"/>
<circle cx="36.40" cy="18.78" r="0.45" fill="#333" opacity="0.42"/>
<circle cx="46.60" cy="29.18" r="0.45" fill="#333" opacity="0.42"/>
<circle cx="44.67" cy="16.96" r="0.45" fill="#333" opacity="0.42"/>
<circle cx="50.18" cy="30.55" r="0.45" fill="#333" opacity="0.42"/>
<circle cx="51.47" cy="20.34" r="0.45" fill="#333" opacity="0.42"/>
<circle cx="42.58" cy="28.62" r="0.45" fill="#333" opacity="0.42"/>
<circle cx="40.67" cy="27.36" r="0.45" fill="#333" opacity="0.42"/>
<circle cx="45.61" cy="19.03" r="0.45" fill="#333" opacity="0.42"/>
<circle cx="32.30" cy="19.53" r="0.45" fill="#333" opacity="0.42"/>
<circle cx="36.27" cy="23.47" r="0.45" fill="#333" opacity="0.42"/>
<circle cx="41.63" cy="27.83" r="0.45" fill="#333" opacity="0.42"/>
<circle cx="39.68" cy="23.12" r="0.45" fill="#333" opacity="0.42"/>
<circle cx="36.94" cy="31.26" r="0.45" fill="#333" opacity="0.42"/>
<circle cx="43.93" cy="27.00" r="0.45" fill="#333" opacity="0.42"/>
<circle cx="37.63" cy="34.27" r="0.45" fill="#333" opacity="0.42"/>
<circle cx="36.05" cy="29.74" r="0.45" fill="#333" opacity="0.42"/>
<circle cx="46.19" cy="25.17" r="0.45" fill="#333" opacity="0.42"/>
<circle cx="44.29" cy="20.92" r="0.45" fill="#333" opacity="0.42"/>
<circle cx="45.37" cy="27.50" r="0.45" fill="#333" opacity="0.42"/>
<circle cx="30.30" cy="29.85" r="0.45" fill="#333" opacity="0.42"/>
<circle cx="35.56" cy="25.68" r="0.45" fill="#333" opacity="0.42"/>
<circle cx="41.14" cy="24.84" r="0.45" fill="#333" opacity="0.42"/>
<circle cx="41.01" cy="23.73" r="0.45" fill="#333" opacity="0.42"/>
<circle cx="43.40" cy="26.53" r="0.45" fill="#333" opacity="0.42"/>
<circle cx="40.72" cy="12.74" r="0.45" fill="#333" opacity="0.42"/>
<circle cx="46.24" cy="26.66" r="0.45" fill="#333" opacity="0.42"/>
<circle cx="42.21" cy="31.85" r="0.45" fill="#333" opacity="0.42"/>
<circle cx="38.65" cy="29.90" r="0.45" fill="#333" opacity="0.42"/>
<circle cx="37.37" cy="20.92" r="0.45" fill="#333" opacity="0.42"/>
<circle cx="45.86" cy="31.03" r="0.45" fill="#333" opacity="0.42"/>
<circle cx="48.42" cy="30.78" r="0.45" fill="#333" opacity="0.42"/>
<circle cx="36.18" cy="18.19" r="0.45" fill="#333" opacity="0.42"/>
<circle cx="35.73" cy="23.12" r="0.45" fill="#333" opacity="0.42"/>
<circle cx="34.77" cy="29.41" r="0.45" fill="#333" opacity="0.42"/>
<circle cx="41.40" cy="25.15" r="0.45" fill="#333" opacity="0.42"/>
<circle cx="40.50" cy="25.77" r="0.45" fill="#333" opacity="0.42"/>
<circle cx="40.73" cy="30.26" r="0.45" fill="#333" opacity="0.42"/>
<circle cx="45.06" cy="23.07" r="0.45" fill="#333" opacity="0.42"/>
<circle cx="40.16" cy="32.03" r="0.45" fill="#333" opacity="0.42"/>
<circle cx="39.66" cy="19.29" r="0.45" fill="#333" opacity="0.42"/>
<circle cx="36.51" cy="30.12" r="0.45" fill="#333" opacity="0.42"/>
<circle cx="45.76" cy="34.47" r="0.45" fill="#333" opacity="0.42"/>
<circle cx="34.49" cy="19.49" r="0.45" fill="#333" opacity="0.42"/>
<circle cx="42.52" cy="31.20" r="0.45" fill="#333" opacity="0.42"/>
<circle cx="40.62" cy="19.99" r="0.45" fill="#333" opacity="0.42"/>
<circle cx="44.04" cy="30.46" r="0.45" fill="#333" opacity="0.42"/>
<circle cx="42.71" cy="24.06" r="0.45" fill="#333" opacity="0.42"/>
<circle cx="41.26" cy="30.45" r="0.45" fill="#333" opacity="0.42"/>
<circle cx="36.26" cy="17.28" r="0.45" fill="#333" opacity="0.42"/>
<circle cx="41.41" cy="28.90" r="0.45" fill="#333" opacity="0.42"/>
<circle cx="39.58" cy="30.95" r="0.45" fill="#333" opacity="0.42"/>
<circle cx="36.10" cy="26.09" r="0.45" fill="#333" opacity="0.42"/>
<circle cx="37.73" cy="29.36" r="0.45" fill="#333" opacity="0.42"/>
<circle cx="48.75" cy="25.24" r="0.45" fill="#333" opacity="0.42"/>
<circle cx="51.42" cy="34.14" r="0.45" fill="#333" opacity="0.42"/>
<circle cx="44.09" cy="29.44" r="0.45" fill="#333" opacity="0.42"/>
<circle cx="49.77" cy="25.60" r="0.45" fill="#333" opacity="0.42"/>
<circle cx="38.85" cy="21.19" r="0.45" fill="#333" opacity="0.42"/>
<circle cx="42.24" cy="33.22" r="0.45" fill="#333" opacity="0.42"/>
<circle cx="42.59" cy="28.62" r="0.45" fill="#333" opacity="0.42"/>
<circle cx="38.34" cy="27.35" r="0.45" fill="#333" opacity="0.42"/>
<circle cx="31.23" cy="31.74" r="0.45" fill="#333" opacity="0.42"/>
<circle cx="37.12" cy="20.98" r="0.45" fill="#333" opacity="0.42"/>
<circle cx="35.14" cy="22.38" r="0.45" fill="#333" opacity="0.42"/>
<circle cx="44.46" cy="31.79" r="0.45" fill="#333" opacity="0.42"/>
<circle cx="31.63" cy="31.13" r="0.45" fill="#333" opacity="0.42"/>
<circle cx="44.65" cy="23.60" r="0.45" fill="#333" opacity="0.42"/>
<circle cx="30.88" cy="22.77" r="0.45" fill="#333" opacity="0.42"/>
<circle cx="35.82" cy="28.21" r="0.45" fill="#333" opacity="0.42"/>
<circle cx="37.43" cy="16.36" r="0.45" fill="#333" opacity="0.42"/>
<circle cx="40.85" cy="18.83" r="0.45" fill="#333" opacity="0.42"/>
<circle cx="44.75" cy="20.47" r="0.45" fill="#333" opacity="0.42"/>
<circle cx="35.48" cy="22.23" r="0.45" fill="#333" opacity="0.42"/>
<circle cx="36.35" cy="32.99" r="0.45" fill="#333" opacity="0.42"/>
<circle cx="44.44" cy="29.51" r="0.45" fill="#333" opacity="0.42"/>
<circle cx="41.35" cy="18.76" r="0.45" fill="#333" opacity="0.42"/>
<circle cx="36.48" cy="23.74" r="0.45" fill="#333" opacity="0.42"/>
<circle cx="33.83" cy="29.05" r="0.45" fill="#333" opacity="0.42"/>
<circle cx="35.20" cy="22.95" r="0.45" fill="#333" opacity="0.42"/>
<circle cx="33.44" cy="16.21" r="0.45" fill="#333" opacity="0.42"/>
<circle cx="42.95" cy="33.15" r="0.45" fill="#333" opacity="0.42"/>
<circle cx="40.51" cy="21.62" r="0.45" fill="#333" opacity="0.42"/>
<circle cx="46.55" cy="27.99" r="0.45" fill="#333" opacity="0.42"/>
<circle cx="44.88" cy="33.89" r="0.45" fill="#333" opacity="0.42"/>
<circle cx="46.04" cy="24.29" r="0.45" fill="#333" opacity="0.42"/>
<circle cx="45.60" cy="30.38" r="0.45" fill="#333" opacity="0.42"/>
<circle cx="30.59" cy="24.47" r="0.45" fill="#333" opacity="0.42"/>
<circle cx="31.24" cy="25.95" r="0.45" fill="#333" opacity="0.42"/>
<circle cx="42.85" cy="21.16" r="0.45" fill="#333" opacity="0.42"/>
<circle cx="41.69" cy="33.86" r="0.45" fill="#333" opacity="0.42"/>
<circle cx="31.82" cy="31.80" r="0.45" fill="#333" opacity="0.42"/>
<circle cx="51.53" cy="36.54" r="0.45" fill="#333" opacity="0.42"/>
<circle cx="38.28" cy="27.85" r="0.45" fill="#333" opacity="0.42"/>
<circle cx="38.61" cy="31.49" r="0.45" fill="#333" opacity="0.42"/>
<circle cx="45.52" cy="26.93" r="0.45" fill="#333" opacity="0.42"/>
<circle cx="31.62" cy="30.21" r="0.45" fill="#333" opacity="0.42"/>
<circle cx="36.77" cy="29.64" r="0.45" fill="#333" opacity="0.42"/>
<circle cx="41.03" cy="34.62" r="0.45" fill="#333" opacity="0.42"/>
<circle cx="46.10" cy="24.25" r="0.45" fill="#333" opacity="0.42"/>
<circle cx="41.52" cy="35.32" r="0.45" fill="#333" opacity="0.42"/>
<circle cx="36.38" cy="28.67" r="0.45" fill="#333" opacity="0.42"/>
<circle cx="46.41" cy="32.78" r="0.45" fill="#333" opacity="0.42"/>
<circle cx="42.51" cy="19.90" r="0.45" fill="#333" opacity="0.42"/>
<circle cx="32.19" cy="27.74" r="0.45" fill="#333" opacity="0.42"/>
<circle cx="34.50" cy="32.19" r="0.45" fill="#333" opacity="0.42"/>
<circle cx="43.97" cy="18.14" r="0.45" fill="#333" opacity="0.42"/>
<circle cx="34.75" cy="27.33" r="0.45" fill="#333" opacity="0.42"/>
<circle cx="36.64" cy="25.73" r="0.45" fill="#333" opacity="0.42"/>
<circle cx="42.23" cy="22.45" r="0.45" fill="#333" opacity="0.42"/>
<circle cx="42.21" cy="23.32" r="0.45" fill="#333" opacity="0.42"/>
<circle cx="36.34" cy="29.18" r="0.45" fill="#333" opacity="0.42"/>
<circle cx="36.17" cy="27.94" r="0.45" fill="#333" opacity="0.42"/>
<circle cx="48.78" cy="26.64" r="0.45" fill="#333" opacity="0.42"/>
<circle cx="38.65" cy="30.18" r="0.45" fill="#333" opacity="0.42"/>
<circle cx="37.38" cy="31.91" r="0.45" fill="#333" opacity="0.42"/>
<circle cx="32.06" cy="29.59" r="0.45" fill="#333" opacity="0.42"/>
<circle cx="36.53" cy="22.51" r="0.45" fill="#333" opacity="0.42"/>
<circle cx="49.76" cy="22.25" r="0.45" fill="#333" opacity="0.42"/>
<circle cx="49.69" cy="29.79" r="0.45" fill="#333" opacity="0.42"/>
<circle cx="47.93" cy="21.62" r="0.45" fill="#333" opacity="0.42"/>
<circle cx="46.45" cy="33.78" r="0.45" fill="#333" opacity="0.42"/>
<circle cx="38.82" cy="25.85" r="0.45" fill="#333" opacity="0.42"/>
<circle cx="53.74" cy="27.39" r="0.45" fill="#333" opacity="0.42"/>
<circle cx="37.05" cy="23.35" r="0.45" fill="#333" opacity="0.42"/>
<circle cx="42.09" cy="28.15" r="0.45" fill="#333" opacity="0.42"/>
<circle cx="40.53" cy="35.11" r="0.45" fill="#333" opacity="0.42"/>
<circle cx="37.60" cy="28.87" r="0.45" fill="#333" opacity="0.42"/>
<circle cx="47.96" cy="21.48" r="0.45" fill="#333" opacity="0.42"/>
<circle cx="45.52" cy="35.66" r="0.45" fill="#333" opacity="0.42"/>
<circle cx="31.64" cy="21.01" r="0.45" fill="#333" opacity="0.42"/>
<circle cx="33.48" cy="17.27" r="0.45" fill="#333" opacity="0.42"/>
<circle cx="42.13" cy="17.22" r="0.45" fill="#333" opacity="0.42"/>
<circle cx="42.39" cy="33.77" r="0.45" fill="#333" opacity="0.42"/>
<circle cx="30.13" cy="24.92" r="0.45" fill="#333" opacity="0.42"/>
<circle cx="35.22" cy="25.17" r="0.45" fill="#333" opacity="0.42"/>
<circle cx="39.82" cy="29.23" r="0.45" fill="#333" opacity="0.42"/>
<circle cx="37.49" cy="26.58" r="0.45" fill="#333" opacity="0.42"/>
<circle cx="36.33" cy="27.07" r="0.45" fill="#333" opacity="0.42"/>
<circle cx="32.70" cy="26.82" r="0.45" fill="#333" opacity="0.42"/>
<circle cx="50.61" cy="26.90" r="0.45" fill="#333" opacity="0.42"/>
<circle cx="32.19" cy="27.79" r="0.45" fill="#333" opacity="0.42"/>
<circle cx="33.86" cy="18.24" r="0.45" fill="#333" opacity="0.42"/>
<circle cx="35.23" cy="30.18" r="0.45" fill="#333" opacity="0.42"/>
<circle cx="41.73" cy="26.02" r="0.45" fill="#333" opacity="0.42"/>
<circle cx="34.13" cy="21.11" r="0.45" fill="#333" opacity="0.42"/>
<circle cx="47.33" cy="27.72" r="0.45" fill="#333" opacity="0.42"/>
<circle cx="33.98" cy="15.95" r="0.45" fill="#333" opacity="0.42"/>
<circle cx="32.84" cy="26.12" r="0.45" fill="#333" opacity="0.42"/>
<circle cx="40.72" cy="25.71" r="0.45" fill="#333" opacity="0.42"/>
<circle cx="37.89" cy="19.63" r="0.45" fill="#333" opacity="0.42"/>
<circle cx="35.11" cy="30.73" r="0.45" fill="#333" opacity="0.42"/>
<circle cx="41.01" cy="31.68" r="0.45" fill="#333" opacity="0.42"/>
<circle cx="32.99" cy="29.48" r="0.45" fill="#333" opacity="0.42"/>
<circle cx="41.74" cy="22.81" r="0.45" fill="#333" opacity="0.42"/>
<circle cx="42.27" cy="22.01" r="0.45" fill="#333" opacity="0.42"/>
<circle cx="34.88" cy="26.41" r="0.45" fill="#333" opacity="0.42"/>
<circle cx="33.70" cy="19.19" r="0.45" fill="#333" opacity="0.42"/>
<circle cx="37.03" cy="30.31" r="0.45" fill="#333" opacity="0.42"/>
<circle cx="37.15" cy="32.83" r="0.45" fill="#333" opacity="0.42"/>
<circle cx="32.77" cy="19.94" r="0.45" fill="#333" opacity="0.42"/>
<circle cx="48.50" cy="28.49" r="0.45" fill="#333" opacity="0.42"/>
<circle cx="44.98" cy="22.37" r="0.45" fill="#333" opacity="0.42"/>
<circle cx="44.17" cy="27.80" r="0.45" fill="#333" opacity="0.42"/>
<circle cx="43.26" cy="26.63" r="0.45" fill="#333" opacity="0.42"/>
<circle cx="46.50" cy="23.25" r="0.45" fill="#333" opacity="0.42"/>
<circle cx="33.91" cy="19.11" r="0.45" fill="#333" opacity="0.42"/>
<circle cx="46.23" cy="22.81" r="0.45" fill="#333" opacity="0.42"/>
<circle cx="33.45" cy="21.80" r="0.45" fill="#333" opacity="0.42"/>
<circle cx="36.92" cy="20.14" r="0.45" fill="#333" opacity="0.42"/>
<circle cx="37.82" cy="23.36" r="0.45" fill="#333" opacity="0.42"/>
<circle cx="36.30" cy="21.70" r="0.45" fill="#333" opacity="0.42"/>
<circle cx="39.71" cy="24.20" r="0.45" fill="#333" opacity="0.42"/>
<circle cx="40.17" cy="27.75" r="0.45" fill="#333" opacity="0.42"/>
<circle cx="41.47" cy="15.55" r="0.45" fill="#333" opacity="0.42"/>
<circle cx="36.39" cy="22.52" r="0.45" fill="#333" opacity="0.42"/>
<circle cx="43.99" cy="18.61" r="0.45" fill="#333" opacity="0.42"/>
<circle cx="35.36" cy="25.03" r="0.45" fill="#333" opacity="0.42"/>
<circle cx="37.55" cy="31.46" r="0.45" fill="#333" opacity="0.42"/>
<circle cx="36.93" cy="31.32" r="0.45" fill="#333" opacity="0.42"/>
<circle cx="31.00" cy="17.44" r="0.45" fill="#333" opacity="0.42"/>
<circle cx="46.57" cy="28.68" r="0.45" fill="#333" opacity="0.42"/>
<circle cx="42.33" cy="27.12" r="0.45" fill="#333" opacity="0.42"/>
<circle cx="42.31" cy="20.42" r="0.45" fill="#333" opacity="0.42"/>
<circle cx="45.00" cy="23.84" r="0.45" fill="#333" opacity="0.42"/>
<circle cx="45.22" cy="26.94" r="0.45" fill="#333" opacity="0.42"/>
<circle cx="46.04" cy="25.82" r="0.45" fill="#333" opacity="0.42"/>
<circle cx="37.21" cy="27.71" r="0.45" fill="#333" opacity="0.42"/>
<circle cx="37.03" cy="23.78" r="0.45" fill="#333" opacity="0.42"/>
<circle cx="40.09" cy="27.22" r="0.45" fill="#333" opacity="0.42"/>
<circle cx="48.30" cy="26.73" r="0.45" fill="#333" opacity="0.42"/>
<circle cx="50.40" cy="35.51" r="0.45" fill="#333" opacity="0.42"/>
<circle cx="49.46" cy="31.81" r="0.45" fill="#333" opacity="0.42"/>
<circle cx="40.26" cy="27.19" r="0.45" fill="#333" opacity="0.42"/>
<circle cx="53.75" cy="28.20" r="0.45" fill="#444" opacity="0.4"/>
<circle cx="45.57" cy="32.06" r="0.45" fill="#444" opacity="0.4"/>
<circle cx="56.00" cy="20.15" r="0.45" fill="#444" opacity="0.4"/>
<circle cx="36.12" cy="28.72" r="0.45" fill="#444" opacity="0.4"/>
<circle cx="49.41" cy="26.13" r="0.45" fill="#444" opacity="0.4"/>
<circle cx="59.10" cy="20.05" r="0.45" fill="#444" opacity="0.4"/>
<circle cx="34.54" cy="28.62" r="0.45" fill="#444" opacity="0.4"/>
<circle cx="37.26" cy="36.16" r="0.45" fill="#444" opacity="0.4"/>
<circle cx="42.74" cy="28.36" r="0.45" fill="#444" opacity="0.4"/>
<circle cx="36.08" cy="34.93" r="0.45" fill="#444" opacity="0.4"/>
<circle cx="46.45" cy="25.89" r="0.45" fill="#444" opacity="0.4"/>
<circle cx="52.90" cy="25.69" r="0.45" fill="#444" opacity="0.4"/>
<circle cx="49.25" cy="26.18" r="0.45" fill="#444" opacity="0.4"/>
<circle cx="59.37" cy="21.11" r="0.45" fill="#444" opacity="0.4"/>
<circle cx="49.79" cy="26.59" r="0.45" fill="#444" opacity="0.4"/>
<circle cx="57.99" cy="15.31" r="0.45" fill="#444" opacity="0.4"/>
<circle cx="39.00" cy="23.93" r="0.45" fill="#444" opacity="0.4"/>
<circle cx="54.32" cy="20.77" r="0.45" fill="#444" opacity="0.4"/>
<circle cx="48.79" cy="25.67" r="0.45" fill="#444" opacity="0.4"/>
<circle cx="48.31" cy="20.54" r="0.45" fill="#444" opacity="0.4"/>
<circle cx="55.54" cy="22.66" r="0.45" fill="#444" opacity="0.4"/>
<circle cx="40.00" cy="31.32" r="0.45" fill="#444" opacity="0.4"/>
<circle cx="56.35" cy="21.86" r="0.45" fill="#444" opacity="0.4"/>
<circle cx="58.14" cy="16.96" r="0.45" fill="#444" opacity="0.4"/>
<circle cx="49.40" cy="30.97" r="0.45" fill="#444" opacity="0.4"/>
<circle cx="53.26" cy="16.83" r="0.45" fill="#444" opacity="0.4"/>
<circle cx="47.82" cy="30.30" r="0.45" fill="#444" opacity="0.4"/>
<circle cx="56.67" cy="27.07" r="0.45" fill="#444" opacity="0.4"/>
<circle cx="58.79" cy="24.69" r="0.45" fill="#444" opacity="0.4"/>
<circle cx="50.86" cy="24.60" r="0.45" fill="#444" opacity="0.4"/>
<circle cx="42.89" cy="24.73" r="0.45" fill="#444" opacity="0.4"/>
<circle cx="51.59" cy="29.68" r="0.45" fill="#444" opacity="0.4"/>
<circle cx="55.13" cy="26.63" r="0.45" fill="#444" opacity="0.4"/>
<circle cx="60.00" cy="19.09" r="0.45" fill="#444" opacity="0.4"/>
<circle cx="46.54" cy="25.84" r="0.45" fill="#444" opacity="0.4"/>
<circle cx="43.13" cy="34.45" r="0.45" fill="#444" opacity="0.4"/>
<circle cx="42.92" cy="27.16" r="0.45" fill="#444" opacity="0.4"/>
<circle cx="49.36" cy="26.96" r="0.45" fill="#444" opacity="0.4"/>
<circle cx="59.07" cy="20.98" r="0.45" fill="#444" opacity="0.4"/>
<circle cx="51.91" cy="23.19" r="0.45" fill="#444" opacity="0.4"/>
<circle cx="48.97" cy="28.04" r="0.45" fill="#444" opacity="0.4"/>
<circle cx="45.22" cy="34.52" r="0.45" fill="#444" opacity="0.4"/>
<circle cx="53.57" cy="22.05" r="0.45" fill="#444" opacity="0.4"/>
<circle cx="43.52" cy="26.70" r="0.45" fill="#444" opacity="0.4"/>
<circle cx="59.29" cy="15.55" r="0.45" fill="#444" opacity="0.4"/>
<circle cx="59.14" cy="21.25" r="0.45" fill="#444" opacity="0.4"/>
<circle cx="42.08" cy="31.45" r="0.45" fill="#444" opacity="0.4"/>
<circle cx="33.25" cy="30.34" r="0.45" fill="#444" opacity="0.4"/>
<circle cx="52.93" cy="25.04" r="0.45" fill="#444" opacity="0.4"/>
<circle cx="36.34" cy="30.54" r="0.45" fill="#444" opacity="0.4"/>
<circle cx="41.70" cy="30.89" r="0.45" fill="#444" opacity="0.4"/>
<circle cx="45.85" cy="20.24" r="0.45" fill="#444" opacity="0.4"/>
<circle cx="50.18" cy="26.19" r="0.45" fill="#444" opacity="0.4"/>
<circle cx="48.54" cy="29.07" r="0.45" fill="#444" opacity="0.4"/>
<circle cx="44.04" cy="30.64" r="0.45" fill="#444" opacity="0.4"/>
<circle cx="49.71" cy="24.94" r="0.45" fill="#444" opacity="0.4"/>
<circle cx="60.63" cy="23.55" r="0.45" fill="#444" opacity="0.4"/>
<circle cx="48.75" cy="17.29" r="0.45" fill="#444" opacity="0.4"/>
<circle cx="40.96" cy="35.98" r="0.45" fill="#444" opacity="0.4"/>
<circle cx="57.63" cy="18.67" r="0.45" fill="#444" opacity="0.4"/>
<circle cx="50.66" cy="23.99" r="0.45" fill="#444" opacity="0.4"/>
<circle cx="44.39" cy="30.23" r="0.45" fill="#444" opacity="0.4"/>
<circle cx="49.01" cy="28.55" r="0.45" fill="#444" opacity="0.4"/>
<circle cx="40.11" cy="30.74" r="0.45" fill="#444" opacity="0.4"/>
<circle cx="53.73" cy="24.39" r="0.45" fill="#444" opacity="0.4"/>
<circle cx="59.45" cy="27.36" r="0.45" fill="#444" opacity="0.4"/>
<circle cx="58.03" cy="20.74" r="0.45" fill="#444" opacity="0.4"/>
<circle cx="52.19" cy="30.87" r="0.45" fill="#444" opacity="0.4"/>
<circle cx="54.40" cy="19.83" r="0.45" fill="#444" opacity="0.4"/>
<circle cx="46.13" cy="25.72" r="0.45" fill="#444" opacity="0.4"/>
<circle cx="52.60" cy="26.38" r="0.45" fill="#444" opacity="0.4"/>
<circle cx="37.56" cy="28.80" r="0.45" fill="#444" opacity="0.4"/>
<circle cx="41.74" cy="29.52" r="0.45" fill="#444" opacity="0.4"/>
<circle cx="47.63" cy="29.49" r="0.45" fill="#444" opacity="0.4"/>
<circle cx="55.51" cy="23.55" r="0.45" fill="#444" opacity="0.4"/>
<circle cx="45.96" cy="32.12" r="0.45" fill="#444" opacity="0.4"/>
<circle cx="40.51" cy="31.39" r="0.45" fill="#444" opacity="0.4"/>
<circle cx="56.71" cy="19.68" r="0.45" fill="#444" opacity="0.4"/>
<circle cx="47.53" cy="28.90" r="0.45" fill="#444" opacity="0.4"/>
<circle cx="36.39" cy="36.85" r="0.45" fill="#444" opacity="0.4"/>
<circle cx="61.01" cy="19.45" r="0.45" fill="#444" opacity="0.4"/>
<circle cx="44.37" cy="28.65" r="0.45" fill="#444" opacity="0.4"/>
<circle cx="51.76" cy="31.03" r="0.45" fill="#444" opacity="0.4"/>
<circle cx="38.20" cy="30.40" r="0.45" fill="#444" opacity="0.4"/>
<circle cx="45.14" cy="31.24" r="0.45" fill="#444" opacity="0.4"/>
<circle cx="50.20" cy="28.91" r="0.45" fill="#444" opacity="0.4"/>
<circle cx="58.65" cy="24.72" r="0.45" fill="#444" opacity="0.4"/>
<circle cx="42.07" cy="35.55" r="0.45" fill="#444" opacity="0.4"/>
<circle cx="53.71" cy="24.82" r="0.45" fill="#444" opacity="0.4"/>
<circle cx="36.65" cy="29.80" r="0.45" fill="#444" opacity="0.4"/>
<circle cx="44.28" cy="33.15" r="0.45" fill="#444" opacity="0.4"/>
<circle cx="54.58" cy="20.37" r="0.45" fill="#444" opacity="0.4"/>
<circle cx="45.52" cy="32.19" r="0.45" fill="#444" opacity="0.4"/>
<circle cx="46.23" cy="26.76" r="0.45" fill="#444" opacity="0.4"/>
<circle cx="53.10" cy="27.09" r="0.45" fill="#444" opacity="0.4"/>
<circle cx="56.43" cy="21.78" r="0.45" fill="#444" opacity="0.4"/>
<circle cx="52.72" cy="22.00" r="0.45" fill="#444" opacity="0.4"/>
<circle cx="45.04" cy="34.40" r="0.45" fill="#444" opacity="0.4"/>
<circle cx="46.74" cy="30.54" r="0.45" fill="#444" opacity="0.4"/>
<circle cx="53.83" cy="25.37" r="0.45" fill="#444" opacity="0.4"/>
<circle cx="45.94" cy="27.07" r="0.45" fill="#444" opacity="0.4"/>
<circle cx="55.55" cy="18.58" r="0.45" fill="#444" opacity="0.4"/>
<circle cx="43.77" cy="26.16" r="0.45" fill="#444" opacity="0.4"/>
<circle cx="59.17" cy="25.37" r="0.45" fill="#444" opacity="0.4"/>
<circle cx="55.82" cy="20.71" r="0.45" fill="#444" opacity="0.4"/>
<circle cx="48.68" cy="25.97" r="0.45" fill="#444" opacity="0.4"/>
<circle cx="59.52" cy="22.18" r="0.45" fill="#444" opacity="0.4"/>
<circle cx="39.35" cy="36.83" r="0.45" fill="#444" opacity="0.4"/>
<circle cx="41.00" cy="35.08" r="0.45" fill="#444" opacity="0.4"/>
<circle cx="44.98" cy="30.88" r="0.45" fill="#444" opacity="0.4"/>
<circle cx="46.25" cy="24.88" r="0.45" fill="#444" opacity="0.4"/>
<circle cx="42.19" cy="28.41" r="0.45" fill="#444" opacity="0.4"/>
<circle cx="40.21" cy="34.69" r="0.45" fill="#444" opacity="0.4"/>
<circle cx="48.27" cy="27.89" r="0.45" fill="#444" opacity="0.4"/>
<circle cx="48.60" cy="30.57" r="0.45" fill="#444" opacity="0.4"/>
<circle cx="58.85" cy="24.72" r="0.45" fill="#444" opacity="0.4"/>
<circle cx="56.66" cy="27.79" r="0.45" fill="#444" opacity="0.4"/>
<circle cx="56.49" cy="22.69" r="0.45" fill="#444" opacity="0.4"/>
<circle cx="53.74" cy="21.63" r="0.45" fill="#444" opacity="0.4"/>
<circle cx="59.05" cy="18.25" r="0.45" fill="#444" opacity="0.4"/>
<circle cx="41.11" cy="32.45" r="0.45" fill="#444" opacity="0.4"/>
<circle cx="61.49" cy="14.42" r="0.45" fill="#444" opacity="0.4"/>
<circle cx="56.24" cy="21.64" r="0.45" fill="#444" opacity="0.4"/>
<circle cx="54.76" cy="24.56" r="0.45" fill="#444" opacity="0.4"/>
<circle cx="39.49" cy="31.62" r="0.45" fill="#444" opacity="0.4"/>
<circle cx="44.42" cy="28.06" r="0.45" fill="#444" opacity="0.4"/>
<circle cx="46.43" cy="27.35" r="0.45" fill="#444" opacity="0.4"/>
<circle cx="44.63" cy="30.27" r="0.45" fill="#444" opacity="0.4"/>
<circle cx="55.38" cy="17.03" r="0.45" fill="#444" opacity="0.4"/>
<circle cx="57.86" cy="21.01" r="0.45" fill="#444" opacity="0.4"/>
<circle cx="51.37" cy="28.86" r="0.45" fill="#444" opacity="0.4"/>
<circle cx="37.59" cy="27.78" r="0.45" fill="#444" opacity="0.4"/>
<circle cx="51.28" cy="28.32" r="0.45" fill="#444" opacity="0.4"/>
<circle cx="49.01" cy="26.66" r="0.45" fill="#444" opacity="0.4"/>
<circle cx="43.23" cy="27.90" r="0.45" fill="#444" opacity="0.4"/>
<circle cx="53.67" cy="24.36" r="0.45" fill="#444" opacity="0.4"/>
<circle cx="40.03" cy="30.24" r="0.45" fill="#444" opacity="0.4"/>
<circle cx="41.40" cy="32.11" r="0.45" fill="#444" opacity="0.4"/>
<circle cx="41.97" cy="30.46" r="0.45" fill="#444" opacity="0.4"/>
<circle cx="45.38" cy="31.68" r="0.45" fill="#444" opacity="0.4"/>
<circle cx="53.71" cy="19.76" r="0.45" fill="#444" opacity="0.4"/>
<circle cx="53.19" cy="28.75" r="0.45" fill="#444" opacity="0.4"/>
<circle cx="44.18" cy="25.86" r="0.45" fill="#444" opacity="0.4"/>
<circle cx="47.07" cy="28.84" r="0.45" fill="#444" opacity="0.4"/>
<circle cx="39.55" cy="29.90" r="0.45" fill="#444" opacity="0.4"/>
<circle cx="52.89" cy="25.58" r="0.45" fill="#444" opacity="0.4"/>
<circle cx="57.06" cy="25.36" r="0.45" fill="#444" opacity="0.4"/>
<circle cx="46.63" cy="34.70" r="0.45" fill="#444" opacity="0.4"/>
<circle cx="44.01" cy="27.53" r="0.45" fill="#444" opacity="0.4"/>
<circle cx="40.47" cy="29.95" r="0.45" fill="#444" opacity="0.4"/>
<circle cx="36.29" cy="34.15" r="0.45" fill="#444" opacity="0.4"/>
<circle cx="55.35" cy="24.71" r="0.45" fill="#444" opacity="0.4"/>
<circle cx="58.96" cy="18.91" r="0.45" fill="#444" opacity="0.4"/>
<circle cx="42.41" cy="31.98" r="0.45" fill="#444" opacity="0.4"/>
<circle cx="54.01" cy="20.78" r="0.45" fill="#444" opacity="0.4"/>
<circle cx="48.61" cy="21.66" r="0.45" fill="#444" opacity="0.4"/>
<circle cx="49.97" cy="23.88" r="0.45" fill="#444" opacity="0.4"/>
<circle cx="54.46" cy="23.04" r="0.45" fill="#444" opacity="0.4"/>
<circle cx="61.46" cy="21.81" r="0.45" fill="#444" opacity="0.4"/>
<circle cx="43.81" cy="25.48" r="0.45" fill="#444" opacity="0.4"/>
<circle cx="46.20" cy="27.98" r="0.45" fill="#444" opacity="0.4"/>
<circle cx="55.09" cy="19.95" r="0.45" fill="#444" opacity="0.4"/>
<circle cx="43.38" cy="28.29" r="0.45" fill="#444" opacity="0.4"/>
<circle cx="41.18" cy="31.45" r="0.45" fill="#444" opacity="0.4"/>
<circle cx="43.84" cy="32.43" r="0.45" fill="#444" opacity="0.4"/>
<circle cx="53.72" cy="21.96" r="0.45" fill="#444" opacity="0.4"/>
<circle cx="40.75" cy="32.08" r="0.45" fill="#444" opacity="0.4"/>
<circle cx="49.26" cy="24.93" r="0.45" fill="#444" opacity="0.4"/>
<circle cx="55.92" cy="25.86" r="0.45" fill="#444" opacity="0.4"/>
<circle cx="57.98" cy="21.62" r="0.45" fill="#444" opacity="0.4"/>
<circle cx="47.13" cy="27.24" r="0.45" fill="#444" opacity="0.4"/>
<circle cx="35.29" cy="31.08" r="0.45" fill="#444" opacity="0.4"/>
<circle cx="58.64" cy="17.59" r="0.45" fill="#444" opacity="0.4"/>
<circle cx="56.84" cy="19.65" r="0.45" fill="#444" opacity="0.4"/>
<circle cx="50.88" cy="25.78" r="0.45" fill="#444" opacity="0.4"/>
<circle cx="46.93" cy="30.75" r="0.45" fill="#444" opacity="0.4"/>
<circle cx="51.39" cy="24.00" r="0.45" fill="#444" opacity="0.4"/>
<circle cx="42.90" cy="30.23" r="0.45" fill="#444" opacity="0.4"/>
<circle cx="55.10" cy="20.58" r="0.45" fill="#444" opacity="0.4"/>
<circle cx="44.81" cy="28.11" r="0.45" fill="#444" opacity="0.4"/>
<circle cx="58.14" cy="22.92" r="0.45" fill="#444" opacity="0.4"/>
<circle cx="56.85" cy="24.55" r="0.45" fill="#444" opacity="0.4"/>
<circle cx="60.94" cy="17.30" r="0.45" fill="#444" opacity="0.4"/>
<circle cx="42.68" cy="28.93" r="0.45" fill="#444" opacity="0.4"/>
<circle cx="61.30" cy="21.97" r="0.45" fill="#444" opacity="0.4"/>
<circle cx="47.87" cy="29.46" r="0.45" fill="#444" opacity="0.4"/>
<circle cx="47.09" cy="26.29" r="0.45" fill="#444" opacity="0.4"/>
<circle cx="38.78" cy="27.85" r="0.45" fill="#444" opacity="0.4"/>
<circle cx="48.82" cy="28.25" r="0.45" fill="#444" opacity="0.4"/>
<circle cx="43.97" cy="28.78" r="0.45" fill="#444" opacity="0.4"/>
<circle cx="45.89" cy="25.93" r="0.45" fill="#444" opacity="0.4"/>
<circle cx="53.37" cy="27.42" r="0.45" fill="#444" opacity="0.4"/>
<circle cx="49.35" cy="29.83" r="0.45" fill="#444" opacity="0.4"/>
<circle cx="52.62" cy="26.02" r="0.45" fill="#444" opacity="0.4"/>
<circle cx="47.55" cy="28.79" r="0.45" fill="#444" opacity="0.4"/>
<circle cx="55.40" cy="23.93" r="0.45" fill="#444" opacity="0.4"/>
<circle cx="36.13" cy="30.05" r="0.45" fill="#444" opacity="0.4"/>
<circle cx="51.42" cy="24.09" r="0.45" fill="#444" opacity="0.4"/>
<circle cx="37.58" cy="30.39" r="0.45" fill="#444" opacity="0.4"/>
<circle cx="52.49" cy="25.05" r="0.45" fill="#444" opacity="0.4"/>
<circle cx="47.70" cy="33.08" r="0.45" fill="#444" opacity="0.4"/>
<circle cx="48.74" cy="27.92" r="0.45" fill="#444" opacity="0.4"/>
<circle cx="51.02" cy="29.97" r="0.45" fill="#444" opacity="0.4"/>
<circle cx="53.11" cy="24.67" r="0.45" fill="#444" opacity="0.4"/>
<circle cx="51.27" cy="25.78" r="0.45" fill="#444" opacity="0.4"/>
<circle cx="59.79" cy="18.97" r="0.45" fill="#444" opacity="0.4"/>
<circle cx="58.56" cy="19.13" r="0.45" fill="#444" opacity="0.4"/>
<circle cx="53.80" cy="24.35" r="0.45" fill="#444" opacity="0.4"/>
<circle cx="58.96" cy="23.43" r="0.45" fill="#444" opacity="0.4"/>
<circle cx="53.92" cy="26.03" r="0.45" fill="#444" opacity="0.4"/>
<circle cx="52.54" cy="22.11" r="0.45" fill="#444" opacity="0.4"/>
<circle cx="43.73" cy="32.17" r="0.45" fill="#444" opacity="0.4"/>
<circle cx="43.41" cy="30.16" r="0.45" fill="#444" opacity="0.4"/>
<circle cx="52.33" cy="27.99" r="0.45" fill="#444" opacity="0.4"/>
<circle cx="45.08" cy="28.58" r="0.45" fill="#444" opacity="0.4"/>
<circle cx="40.94" cy="29.08" r="0.45" fill="#444" opacity="0.4"/>
<circle cx="43.40" cy="31.95" r="0.45" fill="#444" opacity="0.4"/>
<circle cx="46.20" cy="30.82" r="0.45" fill="#444" opacity="0.4"/>
<circle cx="47.12" cy="32.20" r="0.45" fill="#444" opacity="0.4"/>
<circle cx="38.52" cy="37.07" r="0.45" fill="#444" opacity="0.4"/>
<circle cx="35.30" cy="33.20" r="0.45" fill="#444" opacity="0.4"/>
<circle cx="56.82" cy="24.73" r="0.45" fill="#444" opacity="0.4"/>
<circle cx="48.93" cy="28.54" r="0.45" fill="#444" opacity="0.4"/>
<circle cx="44.72" cy="29.29" r="0.45" fill="#444" opacity="0.4"/>
<circle cx="40.91" cy="30.48" r="0.45" fill="#444" opacity="0.4"/>
<circle cx="52.87" cy="29.81" r="0.45" fill="#444" opacity="0.4"/>
<circle cx="49.19" cy="26.91" r="0.45" fill="#444" opacity="0.4"/>
<circle cx="52.22" cy="30.62" r="0.45" fill="#444" opacity="0.4"/>
<circle cx="36.58" cy="31.12" r="0.45" fill="#444" opacity="0.4"/>
<circle cx="43.57" cy="26.75" r="0.45" fill="#444" opacity="0.4"/>
<circle cx="50.08" cy="23.46" r="0.45" fill="#444" opacity="0.4"/>
<circle cx="47.36" cy="28.83" r="0.45" fill="#444" opacity="0.4"/>
<circle cx="54.92" cy="25.66" r="0.45" fill="#444" opacity="0.4"/>
<circle cx="37.23" cy="30.58" r="0.45" fill="#444" opacity="0.4"/>
<circle cx="48.23" cy="27.48" r="0.45" fill="#444" opacity="0.4"/>
<circle cx="44.36" cy="30.39" r="0.45" fill="#444" opacity="0.4"/>
<circle cx="52.95" cy="26.47" r="0.45" fill="#444" opacity="0.4"/>
<circle cx="58.75" cy="15.46" r="0.45" fill="#444" opacity="0.4"/>
<circle cx="58.22" cy="23.47" r="0.45" fill="#444" opacity="0.4"/>
<circle cx="36.04" cy="28.88" r="0.45" fill="#444" opacity="0.4"/>
<circle cx="41.83" cy="30.58" r="0.45" fill="#444" opacity="0.4"/>
<circle cx="53.13" cy="29.33" r="0.45" fill="#444" opacity="0.4"/>
<circle cx="43.96" cy="27.14" r="0.45" fill="#444" opacity="0.4"/>
<circle cx="43.26" cy="29.13" r="0.45" fill="#444" opacity="0.4"/>
<circle cx="54.11" cy="23.94" r="0.45" fill="#444" opacity="0.4"/>
<circle cx="41.43" cy="33.15" r="0.45" fill="#444" opacity="0.4"/>
<circle cx="47.93" cy="28.64" r="0.45" fill="#444" opacity="0.4"/>
<circle cx="53.81" cy="29.54" r="0.45" fill="#444" opacity="0.4"/>
<circle cx="49.70" cy="23.49" r="0.45" fill="#444" opacity="0.4"/>
<circle cx="46.04" cy="24.97" r="0.45" fill="#444" opacity="0.4"/>
<circle cx="39.30" cy="28.80" r="0.45" fill="#444" opacity="0.4"/>
<circle cx="48.50" cy="30.74" r="0.45" fill="#444" opacity="0.4"/>
<circle cx="52.83" cy="25.72" r="0.45" fill="#444" opacity="0.4"/>
<circle cx="40.02" cy="29.70" r="0.45" fill="#444" opacity="0.4"/>
<circle cx="58.03" cy="19.92" r="0.45" fill="#444" opacity="0.4"/>
<circle cx="49.59" cy="26.85" r="0.45" fill="#444" opacity="0.4"/>
<circle cx="55.84" cy="23.42" r="0.45" fill="#444" opacity="0.4"/>
<circle cx="53.44" cy="23.67" r="0.45" fill="#444" opacity="0.4"/>
<circle cx="52.56" cy="18.75" r="0.45" fill="#444" opacity="0.4"/>
<circle cx="50.62" cy="25.11" r="0.45" fill="#444" opacity="0.4"/>
<circle cx="50.26" cy="25.38" r="0.45" fill="#444" opacity="0.4"/>
<circle cx="61.41" cy="24.34" r="0.45" fill="#444" opacity="0.4"/>
<circle cx="36.63" cy="27.59" r="0.45" fill="#444" opacity="0.4"/>
<circle cx="36.43" cy="27.48" r="0.45" fill="#444" opacity="0.4"/>
<circle cx="49.77" cy="24.13" r="0.45" fill="#444" opacity="0.4"/>
<circle cx="36.69" cy="34.48" r="0.45" fill="#444" opacity="0.4"/>
<circle cx="41.11" cy="31.79" r="0.45" fill="#444" opacity="0.4"/>
<circle cx="52.34" cy="22.00" r="0.45" fill="#444" opacity="0.4"/>
<circle cx="39.75" cy="29.56" r="0.45" fill="#444" opacity="0.4"/>
<circle cx="57.22" cy="22.73" r="0.45" fill="#444" opacity="0.4"/>
<circle cx="59.45" cy="24.30" r="0.45" fill="#444" opacity="0.4"/>
<circle cx="45.98" cy="25.43" r="0.45" fill="#444" opacity="0.4"/>
<circle cx="56.36" cy="26.74" r="0.45" fill="#444" opacity="0.4"/>
<circle cx="46.47" cy="26.37" r="0.45" fill="#444" opacity="0.4"/>
<circle cx="57.73" cy="23.72" r="0.45" fill="#444" opacity="0.4"/>
<circle cx="45.54" cy="29.26" r="0.45" fill="#444" opacity="0.4"/>
<circle cx="44.78" cy="33.46" r="0.45" fill="#444" opacity="0.4"/>
<circle cx="49.05" cy="28.79" r="0.45" fill="#444" opacity="0.4"/>
<circle cx="46.75" cy="28.20" r="0.45" fill="#444" opacity="0.4"/>
<circle cx="42.93" cy="20.64" r="0.42" fill="#666" opacity="0.35"/>
<circle cx="53.65" cy="19.18" r="0.42" fill="#666" opacity="0.35"/>
<circle cx="51.61" cy="28.00" r="0.42" fill="#666" opacity="0.35"/>
<circle cx="50.95" cy="18.40" r="0.42" fill="#666" opacity="0.35"/>
<circle cx="48.29" cy="27.32" r="0.42" fill="#666" opacity="0.35"/>
<circle cx="37.84" cy="22.61" r="0.42" fill="#666" opacity="0.35"/>
<circle cx="41.13" cy="19.65" r="0.42" fill="#666" opacity="0.35"/>
<circle cx="50.81" cy="13.04" r="0.42" fill="#666" opacity="0.35"/>
<circle cx="38.94" cy="13.77" r="0.42" fill="#666" opacity="0.35"/>
<circle cx="42.10" cy="25.46" r="0.42" fill="#666" opacity="0.35"/>
<circle cx="53.90" cy="22.99" r="0.42" fill="#666" opacity="0.35"/>
<circle cx="45.13" cy="12.91" r="0.42" fill="#666" opacity="0.35"/>
<circle cx="45.92" cy="33.11" r="0.42" fill="#666" opacity="0.35"/>
<circle cx="48.01" cy="35.27" r="0.42" fill="#666" opacity="0.35"/>
<circle cx="47.58" cy="5.59" r="0.42" fill="#666" opacity="0.35"/>
<circle cx="39.93" cy="25.66" r="0.42" fill="#666" opacity="0.35"/>
<circle cx="44.80" cy="12.18" r="0.42" fill="#666" opacity="0.35"/>
<circle cx="35.99" cy="29.31" r="0.42" fill="#666" opacity="0.35"/>
<circle cx="42.14" cy="22.90" r="0.42" fill="#666" opacity="0.35"/>
<circle cx="33.01" cy="14.26" r="0.42" fill="#666" opacity="0.35"/>
<circle cx="46.64" cy="5.84" r="0.42" fill="#666" opacity="0.35"/>
<circle cx="55.95" cy="6.49" r="0.42" fill="#666" opacity="0.35"/>
<circle cx="33.77" cy="20.42" r="0.42" fill="#666" opacity="0.35"/>
<circle cx="45.24" cy="27.05" r="0.42" fill="#666" opacity="0.35"/>
<circle cx="39.50" cy="18.00" r="0.42" fill="#666" opacity="0.35"/>
<circle cx="40.41" cy="14.47" r="0.42" fill="#666" opacity="0.35"/>
<circle cx="43.69" cy="21.52" r="0.42" fill="#666" opacity="0.35"/>
<circle cx="37.77" cy="22.41" r="0.42" fill="#666" opacity="0.35"/>
<circle cx="41.91" cy="19.26" r="0.42" fill="#666" opacity="0.35"/>
<circle cx="49.44" cy="3.45" r="0.42" fill="#666" opacity="0.35"/>
<circle cx="43.69" cy="9.75" r="0.42" fill="#666" opacity="0.35"/>
<circle cx="39.86" cy="34.40" r="0.42" fill="#666" opacity="0.35"/>
<circle cx="34.71" cy="19.04" r="0.42" fill="#666" opacity="0.35"/>
<circle cx="38.02" cy="29.12" r="0.42" fill="#666" opacity="0.35"/>
<circle cx="35.41" cy="3.84" r="0.42" fill="#666" opacity="0.35"/>
<circle cx="45.46" cy="16.60" r="0.42" fill="#666" opacity="0.35"/>
<circle cx="39.85" cy="30.38" r="0.42" fill="#666" opacity="0.35"/>
<circle cx="36.03" cy="16.41" r="0.42" fill="#666" opacity="0.35"/>
<circle cx="42.99" cy="23.97" r="0.42" fill="#666" opacity="0.35"/>
<circle cx="38.53" cy="29.94" r="0.42" fill="#666" opacity="0.35"/>
<circle cx="57.07" cy="16.08" r="0.42" fill="#666" opacity="0.35"/>
<circle cx="51.46" cy="16.70" r="0.42" fill="#666" opacity="0.35"/>
<circle cx="42.92" cy="16.74" r="0.42" fill="#666" opacity="0.35"/>
<circle cx="37.72" cy="7.73" r="0.42" fill="#666" opacity="0.35"/>
<circle cx="39.35" cy="32.45" r="0.42" fill="#666" opacity="0.35"/>
<circle cx="49.66" cy="16.66" r="0.42" fill="#666" opacity="0.35"/>
<circle cx="38.45" cy="13.26" r="0.42" fill="#666" opacity="0.35"/>
<circle cx="46.46" cy="21.13" r="0.42" fill="#666" opacity="0.35"/>
<circle cx="38.70" cy="10.18" r="0.42" fill="#666" opacity="0.35"/>
<circle cx="50.85" cy="27.50" r="0.42" fill="#666" opacity="0.35"/>
<circle cx="35.60" cy="29.50" r="0.42" fill="#666" opacity="0.35"/>
<circle cx="34.56" cy="26.16" r="0.42" fill="#666" opacity="0.35"/>
<circle cx="35.54" cy="16.02" r="0.42" fill="#666" opacity="0.35"/>
<circle cx="45.33" cy="24.15" r="0.42" fill="#666" opacity="0.35"/>
<circle cx="48.80" cy="11.97" r="0.42" fill="#666" opacity="0.35"/>
<circle cx="52.61" cy="32.91" r="0.42" fill="#666" opacity="0.35"/>
<circle cx="41.93" cy="24.47" r="0.42" fill="#666" opacity="0.35"/>
<circle cx="36.77" cy="18.54" r="0.42" fill="#666" opacity="0.35"/>
<circle cx="33.12" cy="20.86" r="0.42" fill="#666" opacity="0.35"/>
<circle cx="43.34" cy="32.90" r="0.42" fill="#666" opacity="0.35"/>
<circle cx="48.37" cy="27.82" r="0.42" fill="#666" opacity="0.35"/>
<circle cx="39.57" cy="17.84" r="0.42" fill="#666" opacity="0.35"/>
<circle cx="39.71" cy="22.13" r="0.42" fill="#666" opacity="0.35"/>
<circle cx="31.47" cy="15.05" r="0.42" fill="#666" opacity="0.35"/>
<circle cx="42.15" cy="15.07" r="0.42" fill="#666" opacity="0.35"/>
<circle cx="53.18" cy="19.06" r="0.42" fill="#666" opacity="0.35"/>
<circle cx="52.56" cy="31.27" r="0.42" fill="#666" opacity="0.35"/>
<circle cx="38.66" cy="23.85" r="0.42" fill="#666" opacity="0.35"/>
<circle cx="50.72" cy="16.80" r="0.42" fill="#666" opacity="0.35"/>
<circle cx="42.59" cy="14.64" r="0.42" fill="#666" opacity="0.35"/>
<circle cx="42.39" cy="16.60" r="0.42" fill="#666" opacity="0.35"/>
<circle cx="42.56" cy="29.62" r="0.42" fill="#666" opacity="0.35"/>
<circle cx="51.36" cy="21.28" r="0.42" fill="#666" opacity="0.35"/>
<circle cx="37.81" cy="8.82" r="0.45" fill="#222" opacity="0.45"/>
<circle cx="37.05" cy="5.87" r="0.45" fill="#222" opacity="0.45"/>
<circle cx="39.21" cy="6.06" r="0.45" fill="#222" opacity="0.45"/>
<circle cx="38.93" cy="6.02" r="0.45" fill="#222" opacity="0.45"/>
<circle cx="40.31" cy="5.90" r="0.45" fill="#222" opacity="0.45"/>
<circle cx="38.80" cy="9.80" r="0.45" fill="#222" opacity="0.45"/>
<circle cx="36.02" cy="9.78" r="0.45" fill="#222" opacity="0.45"/>
<circle cx="36.24" cy="4.79" r="0.45" fill="#222" opacity="0.45"/>
<circle cx="38.61" cy="8.58" r="0.45" fill="#222" opacity="0.45"/>
<circle cx="37.19" cy="3.62" r="0.45" fill="#222" opacity="0.45"/>
<circle cx="37.42" cy="7.03" r="0.45" fill="#222" opacity="0.45"/>
<circle cx="36.92" cy="7.06" r="0.45" fill="#222" opacity="0.45"/>
<circle cx="40.26" cy="9.88" r="0.45" fill="#222" opacity="0.45"/>
<circle cx="36.94" cy="6.41" r="0.45" fill="#222" opacity="0.45"/>
<circle cx="38.11" cy="9.13" r="0.45" fill="#222" opacity="0.45"/>
<circle cx="38.61" cy="5.70" r="0.45" fill="#222" opacity="0.45"/>
<circle cx="37.75" cy="7.72" r="0.45" fill="#222" opacity="0.45"/>
<circle cx="39.71" cy="9.34" r="0.45" fill="#222" opacity="0.45"/>
<circle cx="38.30" cy="9.37" r="0.45" fill="#222" opacity="0.45"/>
<circle cx="36.89" cy="9.86" r="0.45" fill="#222" opacity="0.45"/>
<circle cx="36.85" cy="8.11" r="0.45" fill="#222" opacity="0.45"/>
<circle cx="38.91" cy="6.10" r="0.45" fill="#222" opacity="0.45"/>
<circle cx="36.42" cy="4.80" r="0.45" fill="#222" opacity="0.45"/>
<circle cx="37.75" cy="7.42" r="0.45" fill="#222" opacity="0.45"/>
<circle cx="37.00" cy="8.27" r="0.45" fill="#222" opacity="0.45"/>
<circle cx="37.63" cy="7.09" r="0.45" fill="#222" opacity="0.45"/>
<circle cx="38.72" cy="10.19" r="0.45" fill="#222" opacity="0.45"/>
<circle cx="36.82" cy="6.06" r="0.45" fill="#222" opacity="0.45"/>
<circle cx="36.57" cy="7.64" r="0.45" fill="#222" opacity="0.45"/>
<circle cx="38.40" cy="6.18" r="0.45" fill="#222" opacity="0.45"/>
<circle cx="39.03" cy="5.93" r="0.45" fill="#222" opacity="0.45"/>
<circle cx="38.77" cy="8.16" r="0.45" fill="#222" opacity="0.45"/>
<circle cx="38.21" cy="10.81" r="0.45" fill="#222" opacity="0.45"/>
<circle cx="37.10" cy="7.25" r="0.45" fill="#222" opacity="0.45"/>
<circle cx="38.23" cy="8.83" r="0.45" fill="#222" opacity="0.45"/>
<circle cx="35.44" cy="7.92" r="0.45" fill="#222" opacity="0.45"/>
<circle cx="36.36" cy="8.47" r="0.45" fill="#222" opacity="0.45"/>
<circle cx="39.60" cy="7.58" r="0.45" fill="#222" opacity="0.45"/>
<circle cx="37.34" cy="7.78" r="0.45" fill="#222" opacity="0.45"/>
<circle cx="32.96" cy="8.68" r="0.45" fill="#222" opacity="0.45"/>
<circle cx="38.36" cy="7.75" r="0.45" fill="#222" opacity="0.45"/>
<circle cx="36.89" cy="6.38" r="0.45" fill="#222" opacity="0.45"/>
<circle cx="37.22" cy="9.36" r="0.45" fill="#222" opacity="0.45"/>
<circle cx="38.66" cy="32.88" r="0.45" fill="#222" opacity="0.4"/>
<circle cx="30.36" cy="27.68" r="0.45" fill="#222" opacity="0.4"/>
<circle cx="39.92" cy="28.96" r="0.45" fill="#222" opacity="0.4"/>
<circle cx="33.42" cy="27.09" r="0.45" fill="#222" opacity="0.4"/>
<circle cx="43.20" cy="25.28" r="0.45" fill="#222" opacity="0.4"/>
<circle cx="35.67" cy="25.84" r="0.45" fill="#222" opacity="0.4"/>
<circle cx="37.15" cy="30.85" r="0.45" fill="#222" opacity="0.4"/>
<circle cx="41.00" cy="23.15" r="0.45" fill="#222" opacity="0.4"/>
<circle cx="43.90" cy="27.29" r="0.45" fill="#222" opacity="0.4"/>
<circle cx="37.02" cy="33.80" r="0.45" fill="#222" opacity="0.4"/>
<circle cx="38.73" cy="25.43" r="0.45" fill="#222" opacity="0.4"/>
<circle cx="36.85" cy="26.91" r="0.45" fill="#222" opacity="0.4"/>
<circle cx="35.61" cy="28.04" r="0.45" fill="#222" opacity="0.4"/>
<circle cx="41.95" cy="30.01" r="0.45" fill="#222" opacity="0.4"/>
<circle cx="35.67" cy="29.33" r="0.45" fill="#222" opacity="0.4"/>
<circle cx="39.11" cy="31.19" r="0.45" fill="#222" opacity="0.4"/>
<circle cx="37.90" cy="30.31" r="0.45" fill="#222" opacity="0.4"/>
<circle cx="46.08" cy="29.28" r="0.45" fill="#222" opacity="0.4"/>
<circle cx="35.36" cy="29.95" r="0.45" fill="#222" opacity="0.4"/>
<circle cx="36.30" cy="27.93" r="0.45" fill="#222" opacity="0.4"/>
<circle cx="39.63" cy="29.97" r="0.45" fill="#222" opacity="0.4"/>
<circle cx="38.04" cy="31.44" r="0.45" fill="#222" opacity="0.4"/>
<circle cx="38.35" cy="25.24" r="0.45" fill="#222" opacity="0.4"/>
<circle cx="41.95" cy="27.95" r="0.45" fill="#222" opacity="0.4"/>
<circle cx="43.08" cy="27.11" r="0.45" fill="#222" opacity="0.4"/>
<circle cx="40.92" cy="29.91" r="0.45" fill="#222" opacity="0.4"/>
<circle cx="35.24" cy="33.05" r="0.45" fill="#222" opacity="0.4"/>
<circle cx="32.66" cy="31.63" r="0.45" fill="#222" opacity="0.4"/>
<circle cx="42.67" cy="30.43" r="0.45" fill="#222" opacity="0.4"/>
<circle cx="41.27" cy="27.57" r="0.45" fill="#222" opacity="0.4"/>
<circle cx="38.96" cy="29.65" r="0.45" fill="#222" opacity="0.4"/>
<circle cx="40.41" cy="31.04" r="0.45" fill="#222" opacity="0.4"/>
<circle cx="38.31" cy="26.98" r="0.45" fill="#222" opacity="0.4"/>
<circle cx="37.11" cy="30.18" r="0.45" fill="#222" opacity="0.4"/>
<circle cx="33.42" cy="25.39" r="0.45" fill="#222" opacity="0.4"/>
<circle cx="37.62" cy="27.41" r="0.45" fill="#222" opacity="0.4"/>
<circle cx="38.09" cy="21.33" r="0.45" fill="#222" opacity="0.4"/>
<circle cx="37.85" cy="28.28" r="0.45" fill="#222" opacity="0.4"/>
<circle cx="41.61" cy="23.30" r="0.45" fill="#222" opacity="0.4"/>
<circle cx="37.97" cy="30.37" r="0.45" fill="#222" opacity="0.4"/>
<circle cx="40.64" cy="32.45" r="0.45" fill="#222" opacity="0.4"/>
<circle cx="42.55" cy="25.98" r="0.45" fill="#222" opacity="0.4"/>
<circle cx="41.14" cy="28.03" r="0.45" fill="#222" opacity="0.4"/>
<circle cx="36.30" cy="33.42" r="0.45" fill="#222" opacity="0.4"/>
<circle cx="36.88" cy="26.54" r="0.45" fill="#222" opacity="0.4"/>
<circle cx="37.63" cy="26.54" r="0.45" fill="#222" opacity="0.4"/>
<circle cx="42.39" cy="30.10" r="0.45" fill="#222" opacity="0.4"/>
<circle cx="43.71" cy="30.19" r="0.45" fill="#222" opacity="0.4"/>
<circle cx="36.93" cy="32.02" r="0.45" fill="#222" opacity="0.4"/>
<circle cx="36.80" cy="27.67" r="0.45" fill="#222" opacity="0.4"/>
<circle cx="38.44" cy="29.11" r="0.45" fill="#222" opacity="0.4"/>
<circle cx="43.02" cy="27.25" r="0.45" fill="#222" opacity="0.4"/>
<circle cx="40.18" cy="28.92" r="0.45" fill="#222" opacity="0.4"/>
<circle cx="34.76" cy="25.84" r="0.45" fill="#222" opacity="0.4"/>
<circle cx="38.26" cy="30.17" r="0.45" fill="#222" opacity="0.4"/>
<circle cx="40.08" cy="30.38" r="0.45" fill="#222" opacity="0.4"/>
<circle cx="39.16" cy="27.71" r="0.45" fill="#222" opacity="0.4"/>
<circle cx="40.44" cy="26.10" r="0.45" fill="#222" opacity="0.4"/>
<circle cx="34.47" cy="28.04" r="0.45" fill="#222" opacity="0.4"/>
<circle cx="34.18" cy="27.51" r="0.45" fill="#222" opacity="0.4"/>
<circle cx="36.48" cy="27.40" r="0.45" fill="#222" opacity="0.4"/>
<circle cx="38.85" cy="26.69" r="0.45" fill="#222" opacity="0.4"/>
<circle cx="37.57" cy="24.06" r="0.45" fill="#222" opacity="0.4"/>
<circle cx="39.49" cy="26.45" r="0.45" fill="#222" opacity="0.4"/>
<circle cx="40.36" cy="20.82" r="0.45" fill="#222" opacity="0.4"/>
<circle cx="36.29" cy="29.70" r="0.45" fill="#222" opacity="0.4"/>
<circle cx="30.76" cy="27.96" r="0.45" fill="#222" opacity="0.4"/>
<circle cx="39.32" cy="29.30" r="0.45" fill="#222" opacity="0.4"/>
<circle cx="33.95" cy="29.66" r="0.45" fill="#222" opacity="0.4"/>
<circle cx="39.50" cy="26.19" r="0.45" fill="#222" opacity="0.4"/>
<circle cx="41.51" cy="28.86" r="0.45" fill="#222" opacity="0.4"/>
<circle cx="39.06" cy="27.70" r="0.45" fill="#222" opacity="0.4"/>
<circle cx="40.85" cy="29.28" r="0.45" fill="#222" opacity="0.4"/>
<circle cx="42.84" cy="30.31" r="0.45" fill="#222" opacity="0.4"/>
<circle cx="36.91" cy="28.35" r="0.45" fill="#222" opacity="0.4"/>
<circle cx="42.10" cy="27.94" r="0.45" fill="#222" opacity="0.4"/>
<circle cx="40.29" cy="30.51" r="0.45" fill="#222" opacity="0.4"/>
<circle cx="38.39" cy="22.25" r="0.45" fill="#222" opacity="0.4"/>
<circle cx="39.45" cy="29.62" r="0.45" fill="#222" opacity="0.4"/>
<circle cx="39.46" cy="26.80" r="0.45" fill="#222" opacity="0.4"/>
<circle cx="43.09" cy="28.61" r="0.45" fill="#222" opacity="0.4"/>
<circle cx="36.89" cy="26.92" r="0.45" fill="#222" opacity="0.4"/>
<circle cx="40.21" cy="25.84" r="0.45" fill="#222" opacity="0.4"/>
<circle cx="35.61" cy="34.80" r="0.45" fill="#222" opacity="0.4"/>
<circle cx="43.43" cy="32.06" r="0.45" fill="#222" opacity="0.4"/>
<circle cx="43.62" cy="30.73" r="0.45" fill="#222" opacity="0.4"/>
<circle cx="33.30" cy="32.47" r="0.45" fill="#222" opacity="0.4"/>
<circle cx="43.19" cy="30.42" r="0.45" fill="#222" opacity="0.4"/>
<circle cx="53.59" cy="24.50" r="0.45" fill="#333" opacity="0.4"/>
<circle cx="53.54" cy="26.13" r="0.45" fill="#333" opacity="0.4"/>
<circle cx="45.39" cy="29.50" r="0.45" fill="#333" opacity="0.4"/>
<circle cx="45.82" cy="26.41" r="0.45" fill="#333" opacity="0.4"/>
<circle cx="48.77" cy="28.36" r="0.45" fill="#333" opacity="0.4"/>
<circle cx="54.46" cy="28.82" r="0.45" fill="#333" opacity="0.4"/>
<circle cx="57.29" cy="25.22" r="0.45" fill="#333" opacity="0.4"/>
<circle cx="56.45" cy="24.06" r="0.45" fill="#333" opacity="0.4"/>
<circle cx="51.66" cy="25.35" r="0.45" fill="#333" opacity="0.4"/>
<circle cx="52.49" cy="22.42" r="0.45" fill="#333" opacity="0.4"/>
<circle cx="53.44" cy="24.04" r="0.45" fill="#333" opacity="0.4"/>
<circle cx="55.68" cy="24.34" r="0.45" fill="#333" opacity="0.4"/>
<circle cx="59.19" cy="25.64" r="0.45" fill="#333" opacity="0.4"/>
<circle cx="59.78" cy="20.53" r="0.45" fill="#333" opacity="0.4"/>
<circle cx="44.28" cy="30.61" r="0.45" fill="#333" opacity="0.4"/>
<circle cx="60.31" cy="23.98" r="0.45" fill="#333" opacity="0.4"/>
<circle cx="45.24" cy="33.74" r="0.45" fill="#333" opacity="0.4"/>
<circle cx="41.24" cy="35.08" r="0.45" fill="#333" opacity="0.4"/>
<circle cx="59.01" cy="19.26" r="0.45" fill="#333" opacity="0.4"/>
<circle cx="42.93" cy="35.49" r="0.45" fill="#333" opacity="0.4"/>
<circle cx="56.71" cy="24.34" r="0.45" fill="#333" opacity="0.4"/>
<circle cx="45.32" cy="29.66" r="0.45" fill="#333" opacity="0.4"/>
<circle cx="44.10" cy="31.65" r="0.45" fill="#333" opacity="0.4"/>
<circle cx="59.50" cy="23.20" r="0.45" fill="#333" opacity="0.4"/>
<circle cx="43.31" cy="30.97" r="0.45" fill="#333" opacity="0.4"/>
<circle cx="56.30" cy="26.66" r="0.45" fill="#333" opacity="0.4"/>
<circle cx="52.43" cy="27.32" r="0.45" fill="#333" opacity="0.4"/>
<circle cx="52.55" cy="25.05" r="0.45" fill="#333" opacity="0.4"/>
<circle cx="49.93" cy="28.49" r="0.45" fill="#333" opacity="0.4"/>
<circle cx="54.99" cy="24.58" r="0.45" fill="#333" opacity="0.4"/>
<circle cx="47.30" cy="29.10" r="0.45" fill="#333" opacity="0.4"/>
<circle cx="49.02" cy="27.43" r="0.45" fill="#333" opacity="0.4"/>
<circle cx="51.57" cy="27.87" r="0.45" fill="#333" opacity="0.4"/>
<circle cx="51.33" cy="23.41" r="0.45" fill="#333" opacity="0.4"/>
<circle cx="58.47" cy="23.22" r="0.45" fill="#333" opacity="0.4"/>
<circle cx="53.51" cy="24.53" r="0.45" fill="#333" opacity="0.4"/>
<circle cx="51.50" cy="26.60" r="0.45" fill="#333" opacity="0.4"/>
<circle cx="48.00" cy="28.03" r="0.45" fill="#333" opacity="0.4"/>
<circle cx="62.71" cy="20.12" r="0.45" fill="#333" opacity="0.4"/>
<circle cx="58.59" cy="23.91" r="0.45" fill="#333" opacity="0.4"/>
<circle cx="48.86" cy="28.94" r="0.45" fill="#333" opacity="0.4"/>
<circle cx="46.02" cy="27.39" r="0.45" fill="#333" opacity="0.4"/>
<circle cx="61.28" cy="22.13" r="0.45" fill="#333" opacity="0.4"/>
<circle cx="46.31" cy="25.90" r="0.45" fill="#333" opacity="0.4"/>
<circle cx="47.77" cy="28.20" r="0.45" fill="#333" opacity="0.4"/>
<circle cx="56.88" cy="20.95" r="0.45" fill="#333" opacity="0.4"/>
<circle cx="54.12" cy="24.84" r="0.45" fill="#333" opacity="0.4"/>
<circle cx="53.25" cy="22.30" r="0.45" fill="#333" opacity="0.4"/>
<circle cx="52.90" cy="25.12" r="0.45" fill="#333" opacity="0.4"/>
<circle cx="52.25" cy="22.91" r="0.45" fill="#333" opacity="0.4"/>
<circle cx="51.95" cy="24.04" r="0.45" fill="#333" opacity="0.4"/>
<circle cx="52.62" cy="29.44" r="0.45" fill="#333" opacity="0.4"/>
<circle cx="50.09" cy="23.69" r="0.45" fill="#333" opacity="0.4"/>
<circle cx="50.78" cy="27.48" r="0.45" fill="#333" opacity="0.4"/>
<circle cx="56.29" cy="20.39" r="0.45" fill="#333" opacity="0.4"/>
<circle cx="52.07" cy="24.17" r="0.45" fill="#333" opacity="0.4"/>
<circle cx="46.07" cy="27.73" r="0.45" fill="#333" opacity="0.4"/>
<circle cx="55.51" cy="20.19" r="0.45" fill="#333" opacity="0.4"/>
<circle cx="59.51" cy="22.17" r="0.45" fill="#333" opacity="0.4"/>
<circle cx="57.40" cy="20.99" r="0.45" fill="#333" opacity="0.4"/>
<circle cx="44.76" cy="31.18" r="0.45" fill="#333" opacity="0.4"/>
<circle cx="49.22" cy="25.20" r="0.45" fill="#333" opacity="0.4"/>
<circle cx="51.86" cy="27.73" r="0.45" fill="#333" opacity="0.4"/>
<circle cx="59.21" cy="17.78" r="0.45" fill="#333" opacity="0.4"/>
<circle cx="51.62" cy="22.72" r="0.45" fill="#333" opacity="0.4"/>
<circle cx="43.89" cy="28.30" r="0.45" fill="#333" opacity="0.4"/>
<circle cx="51.52" cy="27.86" r="0.45" fill="#333" opacity="0.4"/>
<circle cx="47.84" cy="28.20" r="0.45" fill="#333" opacity="0.4"/>
<circle cx="44.99" cy="29.26" r="0.45" fill="#333" opacity="0.4"/>
<circle cx="44.89" cy="28.13" r="0.45" fill="#333" opacity="0.4"/>
<circle cx="48.03" cy="32.28" r="0.45" fill="#333" opacity="0.4"/>
<circle cx="41.05" cy="27.62" r="0.45" fill="#333" opacity="0.4"/>
<circle cx="42.49" cy="31.39" r="0.45" fill="#333" opacity="0.4"/>
<circle cx="52.71" cy="25.06" r="0.45" fill="#333" opacity="0.4"/>
<circle cx="47.84" cy="29.26" r="0.45" fill="#333" opacity="0.4"/>
<circle cx="44.89" cy="30.20" r="0.45" fill="#333" opacity="0.4"/>
<circle cx="55.41" cy="24.01" r="0.45" fill="#333" opacity="0.4"/>
<circle cx="53.58" cy="24.40" r="0.45" fill="#333" opacity="0.4"/>
<circle cx="59.03" cy="18.28" r="0.45" fill="#333" opacity="0.4"/>
<circle cx="53.61" cy="24.75" r="0.45" fill="#333" opacity="0.4"/>
<circle cx="53.83" cy="24.77" r="0.45" fill="#333" opacity="0.4"/>
<circle cx="53.68" cy="23.89" r="0.45" fill="#333" opacity="0.4"/>
<circle cx="40.60" cy="30.34" r="0.45" fill="#333" opacity="0.4"/>
<circle cx="51.42" cy="24.53" r="0.45" fill="#333" opacity="0.4"/>
<circle cx="52.19" cy="24.81" r="0.45" fill="#333" opacity="0.4"/>
<circle cx="47.12" cy="25.80" r="0.45" fill="#333" opacity="0.4"/>
<circle cx="53.95" cy="21.73" r="0.45" fill="#333" opacity="0.4"/>
<circle cx="41.65" cy="28.99" r="0.45" fill="#333" opacity="0.4"/>
<circle cx="55.97" cy="21.67" r="0.45" fill="#333" opacity="0.4"/>
<circle cx="49.24" cy="31.24" r="0.45" fill="#333" opacity="0.4"/>
<circle cx="46.68" cy="32.72" r="0.45" fill="#333" opacity="0.4"/>
<circle cx="55.00" cy="26.35" r="0.45" fill="#333" opacity="0.4"/>
<circle cx="54.13" cy="23.55" r="0.45" fill="#333" opacity="0.4"/>
<circle cx="52.13" cy="25.14" r="0.45" fill="#333" opacity="0.4"/>
<circle cx="61.62" cy="15.95" r="0.45" fill="#333" opacity="0.4"/>
<circle cx="43.40" cy="32.55" r="0.45" fill="#333" opacity="0.4"/>
<circle cx="43.71" cy="31.80" r="0.45" fill="#333" opacity="0.4"/>
<circle cx="46.13" cy="30.41" r="0.45" fill="#333" opacity="0.4"/>
<circle cx="55.21" cy="20.79" r="0.45" fill="#333" opacity="0.4"/>
<circle cx="51.18" cy="27.55" r="0.45" fill="#333" opacity="0.4"/>
<circle cx="58.87" cy="17.49" r="0.45" fill="#333" opacity="0.4"/>
<circle cx="46.82" cy="29.60" r="0.45" fill="#333" opacity="0.4"/>
<circle cx="50.10" cy="27.31" r="0.45" fill="#333" opacity="0.4"/>
<circle cx="49.15" cy="25.08" r="0.45" fill="#333" opacity="0.4"/>
<circle cx="57.81" cy="27.08" r="0.45" fill="#333" opacity="0.4"/>
<circle cx="53.66" cy="25.93" r="0.45" fill="#333" opacity="0.4"/>
<circle cx="49.43" cy="27.14" r="0.45" fill="#333" opacity="0.4"/>
<circle cx="47.30" cy="32.00" r="0.45" fill="#333" opacity="0.4"/>
<circle cx="46.36" cy="24.66" r="0.45" fill="#333" opacity="0.4"/>
<circle cx="48.17" cy="26.34" r="0.45" fill="#333" opacity="0.4"/>
<circle cx="50.50" cy="26.14" r="0.45" fill="#333" opacity="0.4"/>
<circle cx="49.40" cy="26.26" r="0.45" fill="#333" opacity="0.4"/>
<circle cx="59.95" cy="22.94" r="0.45" fill="#333" opacity="0.4"/>
<circle cx="47.51" cy="28.52" r="0.45" fill="#333" opacity="0.4"/>
<circle cx="53.42" cy="22.43" r="0.45" fill="#333" opacity="0.4"/>
<circle cx="53.77" cy="25.36" r="0.45" fill="#333" opacity="0.4"/>
<circle cx="59.81" cy="25.84" r="0.45" fill="#333" opacity="0.4"/>
<circle cx="46.45" cy="30.10" r="0.45" fill="#333" opacity="0.4"/>
<circle cx="58.09" cy="21.90" r="0.45" fill="#333" opacity="0.4"/>
<circle cx="53.65" cy="28.87" r="0.45" fill="#333" opacity="0.4"/>
<rect x="29.20" y="1.40" width="41.50" height="37.80" fill="none" stroke="#777" stroke-width="0.65" />
<line x1="45.10" y1="1.40" x2="45.10" y2="39.20" stroke="#888" stroke-width="0.5" />
<line x1="29.20" y1="17.20" x2="70.70" y2="17.20" stroke="#888" stroke-width="0.5" />
<text transform="translate(30.60,7.32) scale(1,1.15)" font-size="5.6" text-anchor="start" font-weight="bold" fill="#000" >4</text>
<text transform="translate(66.30,7.32) scale(1,1.15)" font-size="5.6" text-anchor="start" font-weight="bold" fill="#000" >1</text>
<text transform="translate(30.70,38.92) scale(1,1.15)" font-size="5.6" text-anchor="start" font-weight="bold" fill="#000" >3</text>
<text transform="translate(66.10,38.92) scale(1,1.15)" font-size="5.6" text-anchor="start" font-weight="bold" fill="#000" >2</text>
<polygon points="21.2,11.2 27.4,11.2 24.3,5.2" fill="#000"/>
<text transform="translate(27.0,38.4) rotate(-90) scale(1,1.22)" font-size="5.95">CD45RA</text>
<text transform="translate(30.30,49.52) scale(1,1.02)" font-size="5.9" text-anchor="start" fill="#000" >CCR7</text>
<line x1="48.00" y1="47.30" x2="62.50" y2="47.30" stroke="#777" stroke-width="0.5" />
<polygon points="62,44.5 62,50.5 67.6,47.5" fill="#000"/>
<rect x="98.80" y="13.50" width="4.70" height="16.10" fill="#000" stroke="none" stroke-width="0" />
<text transform="translate(111.90,23.24) scale(1,0.9)" font-size="6.0" text-anchor="start" fill="#000" >protein</text>
<rect x="153.50" y="13.80" width="5.00" height="15.60" fill="#fff" stroke="#aaa" stroke-width="0.6" />
<text transform="translate(166.90,25.70) scale(1,0.97)" font-size="6.0" text-anchor="start" fill="#000" >mRNA</text>
<text transform="translate(206.90,12.78) scale(1,0.88)" font-size="5.95" text-anchor="start" fill="#000" ><tspan font-weight="bold">1</tspan> = naive</text>
<text transform="translate(206.90,21.28) scale(1,0.88)" font-size="5.95" text-anchor="start" fill="#000" ><tspan font-weight="bold">2</tspan> = central memory (CM)</text>
<text transform="translate(206.90,29.78) scale(1,0.88)" font-size="5.95" text-anchor="start" fill="#000" ><tspan font-weight="bold">3</tspan> = effector memory (EM)</text>
<text transform="translate(206.90,38.28) scale(1,0.88)" font-size="5.95" text-anchor="start" fill="#000" ><tspan font-weight="bold">4</tspan> = RA-positive effector memory (EMRA)</text>
<line x1="28.60" y1="53.80" x2="28.60" y2="110.30" stroke="#aaa" stroke-width="0.6" />
<text transform="translate(23.80,57.00) scale(1,1.15)" font-size="5.8" text-anchor="end" fill="#000" >100</text>
<text transform="translate(23.80,68.30) scale(1,1.15)" font-size="5.8" text-anchor="end" fill="#000" >80</text>
<text transform="translate(23.80,79.70) scale(1,1.15)" font-size="5.8" text-anchor="end" fill="#000" >60</text>
<text transform="translate(23.80,91.10) scale(1,1.15)" font-size="5.8" text-anchor="end" fill="#000" >40</text>
<text transform="translate(23.80,102.80) scale(1,1.15)" font-size="5.8" text-anchor="end" fill="#000" >20</text>
<line x1="28.60" y1="110.30" x2="313.00" y2="110.30" stroke="#ccc" stroke-width="0.4" />
<line x1="75.40" y1="110.30" x2="75.40" y2="115.30" stroke="#999" stroke-width="0.6" />
<line x1="125.60" y1="110.30" x2="125.60" y2="115.30" stroke="#999" stroke-width="0.6" />
<line x1="173.40" y1="110.30" x2="173.40" y2="115.30" stroke="#999" stroke-width="0.6" />
<line x1="219.50" y1="110.30" x2="219.50" y2="115.30" stroke="#999" stroke-width="0.6" />
<line x1="267.80" y1="110.30" x2="267.80" y2="115.30" stroke="#999" stroke-width="0.6" />
<line x1="313.00" y1="80.00" x2="313.00" y2="110.30" stroke="#ccc" stroke-width="0.6" />
<text transform="translate(316.00,86.10) scale(1,1.15)" font-size="5.8" text-anchor="start" fill="#000" >0.1</text>
<rect x="36.50" y="108.40" width="3.70" height="1.90" fill="#000" stroke="#fff" stroke-width="0.5" />
<rect x="40.20" y="109.70" width="3.70" height="0.60" fill="#000" stroke="#fff" stroke-width="0.5" />
<rect x="43.90" y="109.80" width="3.70" height="0.50" fill="#000" stroke="#fff" stroke-width="0.5" />
<rect x="47.60" y="109.60" width="3.70" height="0.70" fill="#000" stroke="#fff" stroke-width="0.5" />
<rect x="54.25" y="109.40" width="3.10" height="0.90" fill="#ebebeb" stroke="#a0a0a0" stroke-width="0.5" />
<rect x="57.85" y="109.00" width="3.10" height="1.30" fill="#ebebeb" stroke="#a0a0a0" stroke-width="0.5" />
<line x1="63.00" y1="104.20" x2="63.00" y2="108.60" stroke="#999" stroke-width="0.5" />
<line x1="62.40" y1="104.20" x2="63.60" y2="104.20" stroke="#999" stroke-width="0.5" />
<rect x="61.45" y="108.60" width="3.10" height="1.70" fill="#ebebeb" stroke="#a0a0a0" stroke-width="0.5" />
<rect x="65.05" y="109.20" width="3.10" height="1.10" fill="#ebebeb" stroke="#a0a0a0" stroke-width="0.5" />
<text transform="translate(51.40,124.96) scale(1,1.15)" font-size="5.95" text-anchor="middle" fill="#000" >CCR1</text>
<rect x="83.50" y="109.30" width="3.70" height="1.00" fill="#000" stroke="#fff" stroke-width="0.5" />
<rect x="87.20" y="109.80" width="3.70" height="0.50" fill="#000" stroke="#fff" stroke-width="0.5" />
<line x1="92.75" y1="106.30" x2="92.75" y2="107.50" stroke="#999" stroke-width="0.45" />
<line x1="92.15" y1="106.30" x2="93.35" y2="106.30" stroke="#999" stroke-width="0.45" />
<rect x="90.90" y="107.50" width="3.70" height="2.80" fill="#000" stroke="#fff" stroke-width="0.5" />
<line x1="96.45" y1="88.80" x2="96.45" y2="94.30" stroke="#999" stroke-width="0.45" />
<line x1="95.85" y1="88.80" x2="97.05" y2="88.80" stroke="#999" stroke-width="0.45" />
<rect x="94.60" y="94.30" width="3.70" height="16.00" fill="#000" stroke="#fff" stroke-width="0.5" />
<rect x="102.05" y="108.70" width="3.25" height="1.60" fill="#ebebeb" stroke="#a0a0a0" stroke-width="0.5" />
<line x1="107.42" y1="105.50" x2="107.42" y2="107.20" stroke="#999" stroke-width="0.5" />
<line x1="106.83" y1="105.50" x2="108.02" y2="105.50" stroke="#999" stroke-width="0.5" />
<rect x="105.80" y="107.20" width="3.25" height="3.10" fill="#ebebeb" stroke="#a0a0a0" stroke-width="0.5" />
<rect x="109.55" y="108.20" width="3.25" height="2.10" fill="#ebebeb" stroke="#a0a0a0" stroke-width="0.5" />
<line x1="114.92" y1="100.50" x2="114.92" y2="104.10" stroke="#999" stroke-width="0.5" />
<line x1="114.33" y1="100.50" x2="115.52" y2="100.50" stroke="#999" stroke-width="0.5" />
<rect x="113.30" y="104.10" width="3.25" height="6.20" fill="#ebebeb" stroke="#a0a0a0" stroke-width="0.5" />
<text transform="translate(98.75,121.26) scale(1,1.15)" font-size="5.95" text-anchor="middle" fill="#000" >CXCR1</text>
<rect x="133.00" y="109.70" width="3.60" height="0.60" fill="#000" stroke="#fff" stroke-width="0.5" />
<rect x="136.60" y="109.50" width="3.60" height="0.80" fill="#000" stroke="#fff" stroke-width="0.5" />
<line x1="142.00" y1="105.00" x2="142.00" y2="107.80" stroke="#999" stroke-width="0.45" />
<line x1="141.40" y1="105.00" x2="142.60" y2="105.00" stroke="#999" stroke-width="0.45" />
<rect x="140.20" y="107.80" width="3.60" height="2.50" fill="#000" stroke="#fff" stroke-width="0.5" />
<rect x="143.80" y="109.00" width="3.60" height="1.30" fill="#000" stroke="#fff" stroke-width="0.5" />
<text transform="translate(147.05,121.26) scale(1,1.15)" font-size="5.95" text-anchor="middle" fill="#000" >CCR2</text>
<rect x="179.00" y="109.20" width="3.60" height="1.10" fill="#000" stroke="#fff" stroke-width="0.5" />
<rect x="182.60" y="109.80" width="3.60" height="0.50" fill="#000" stroke="#fff" stroke-width="0.5" />
<rect x="186.20" y="109.80" width="3.60" height="0.50" fill="#000" stroke="#fff" stroke-width="0.5" />
<rect x="189.80" y="109.80" width="3.60" height="0.50" fill="#000" stroke="#fff" stroke-width="0.5" />
<rect x="194.25" y="109.30" width="3.40" height="1.00" fill="#ebebeb" stroke="#a0a0a0" stroke-width="0.5" />
<line x1="199.85" y1="107.00" x2="199.85" y2="108.60" stroke="#999" stroke-width="0.5" />
<line x1="199.25" y1="107.00" x2="200.45" y2="107.00" stroke="#999" stroke-width="0.5" />
<rect x="198.15" y="108.60" width="3.40" height="1.70" fill="#ebebeb" stroke="#a0a0a0" stroke-width="0.5" />
<line x1="203.75" y1="106.20" x2="203.75" y2="108.40" stroke="#999" stroke-width="0.5" />
<line x1="203.15" y1="106.20" x2="204.35" y2="106.20" stroke="#999" stroke-width="0.5" />
<rect x="202.05" y="108.40" width="3.40" height="1.90" fill="#ebebeb" stroke="#a0a0a0" stroke-width="0.5" />
<rect x="205.95" y="108.90" width="3.40" height="1.40" fill="#ebebeb" stroke="#a0a0a0" stroke-width="0.5" />
<text transform="translate(196.90,121.26) scale(1,1.15)" font-size="5.95" text-anchor="middle" fill="#000" >CXCR2</text>
<rect x="226.00" y="109.20" width="3.50" height="1.10" fill="#000" stroke="#fff" stroke-width="0.5" />
<rect x="229.50" y="109.80" width="3.50" height="0.50" fill="#000" stroke="#fff" stroke-width="0.5" />
<rect x="233.00" y="109.80" width="3.50" height="0.50" fill="#000" stroke="#fff" stroke-width="0.5" />
<rect x="236.50" y="109.60" width="3.50" height="0.70" fill="#000" stroke="#fff" stroke-width="0.5" />
<rect x="243.25" y="109.30" width="3.30" height="1.00" fill="#ebebeb" stroke="#a0a0a0" stroke-width="0.5" />
<rect x="247.05" y="108.80" width="3.30" height="1.50" fill="#ebebeb" stroke="#a0a0a0" stroke-width="0.5" />
<line x1="252.50" y1="106.50" x2="252.50" y2="108.40" stroke="#999" stroke-width="0.5" />
<line x1="251.90" y1="106.50" x2="253.10" y2="106.50" stroke="#999" stroke-width="0.5" />
<rect x="250.85" y="108.40" width="3.30" height="1.90" fill="#ebebeb" stroke="#a0a0a0" stroke-width="0.5" />
<rect x="254.65" y="108.90" width="3.30" height="1.40" fill="#ebebeb" stroke="#a0a0a0" stroke-width="0.5" />
<text transform="translate(242.10,121.26) scale(1,1.15)" font-size="5.95" text-anchor="middle" fill="#000" >CCR3</text>
<line x1="277.03" y1="68.00" x2="277.03" y2="80.80" stroke="#999" stroke-width="0.45" />
<line x1="276.43" y1="68.00" x2="277.63" y2="68.00" stroke="#999" stroke-width="0.45" />
<rect x="275.30" y="80.80" width="3.45" height="29.50" fill="#000" stroke="#fff" stroke-width="0.5" />
<line x1="280.48" y1="64.20" x2="280.48" y2="74.70" stroke="#999" stroke-width="0.45" />
<line x1="279.88" y1="64.20" x2="281.08" y2="64.20" stroke="#999" stroke-width="0.45" />
<rect x="278.75" y="74.70" width="3.45" height="35.60" fill="#000" stroke="#fff" stroke-width="0.5" />
<line x1="283.93" y1="59.80" x2="283.93" y2="75.80" stroke="#999" stroke-width="0.45" />
<line x1="283.32" y1="59.80" x2="284.53" y2="59.80" stroke="#999" stroke-width="0.45" />
<rect x="282.20" y="75.80" width="3.45" height="34.50" fill="#000" stroke="#fff" stroke-width="0.5" />
<line x1="287.38" y1="69.20" x2="287.38" y2="84.50" stroke="#999" stroke-width="0.45" />
<line x1="286.78" y1="69.20" x2="287.98" y2="69.20" stroke="#999" stroke-width="0.45" />
<rect x="285.65" y="84.50" width="3.45" height="25.80" fill="#000" stroke="#fff" stroke-width="0.5" />
<line x1="294.93" y1="104.50" x2="294.93" y2="106.40" stroke="#999" stroke-width="0.5" />
<line x1="294.32" y1="104.50" x2="295.53" y2="104.50" stroke="#999" stroke-width="0.5" />
<rect x="293.25" y="106.40" width="3.35" height="3.90" fill="#ebebeb" stroke="#a0a0a0" stroke-width="0.5" />
<line x1="298.78" y1="94.80" x2="298.78" y2="97.70" stroke="#999" stroke-width="0.5" />
<line x1="298.18" y1="94.80" x2="299.38" y2="94.80" stroke="#999" stroke-width="0.5" />
<rect x="297.10" y="97.70" width="3.35" height="12.60" fill="#ebebeb" stroke="#a0a0a0" stroke-width="0.5" />
<line x1="302.62" y1="101.00" x2="302.62" y2="104.20" stroke="#999" stroke-width="0.5" />
<line x1="302.02" y1="101.00" x2="303.23" y2="101.00" stroke="#999" stroke-width="0.5" />
<rect x="300.95" y="104.20" width="3.35" height="6.10" fill="#ebebeb" stroke="#a0a0a0" stroke-width="0.5" />
<rect x="304.80" y="105.80" width="3.35" height="4.50" fill="#ebebeb" stroke="#a0a0a0" stroke-width="0.5" />
<text transform="translate(290.00,121.26) scale(1,1.15)" font-size="5.95" text-anchor="middle" fill="#000" >CXCR3</text>
<line x1="28.30" y1="130.00" x2="28.30" y2="186.40" stroke="#aaa" stroke-width="0.6" />
<text transform="translate(23.80,133.00) scale(1,1.15)" font-size="5.8" text-anchor="end" fill="#000" >100</text>
<text transform="translate(23.80,144.40) scale(1,1.15)" font-size="5.8" text-anchor="end" fill="#000" >80</text>
<text transform="translate(23.80,155.80) scale(1,1.15)" font-size="5.8" text-anchor="end" fill="#000" >60</text>
<text transform="translate(23.80,167.30) scale(1,1.15)" font-size="5.8" text-anchor="end" fill="#000" >40</text>
<text transform="translate(23.80,178.70) scale(1,1.15)" font-size="5.8" text-anchor="end" fill="#000" >20</text>
<line x1="28.30" y1="186.40" x2="311.90" y2="186.40" stroke="#ccc" stroke-width="0.4" />
<line x1="76.00" y1="186.40" x2="76.00" y2="191.40" stroke="#999" stroke-width="0.6" />
<line x1="125.50" y1="186.40" x2="125.50" y2="191.40" stroke="#999" stroke-width="0.6" />
<line x1="173.20" y1="186.40" x2="173.20" y2="191.40" stroke="#999" stroke-width="0.6" />
<line x1="219.40" y1="186.40" x2="219.40" y2="191.40" stroke="#999" stroke-width="0.6" />
<line x1="267.60" y1="186.40" x2="267.60" y2="191.40" stroke="#999" stroke-width="0.6" />
<line x1="311.90" y1="155.40" x2="311.90" y2="186.40" stroke="#ccc" stroke-width="0.6" />
<text transform="translate(315.50,162.40) scale(1,1.15)" font-size="5.8" text-anchor="start" fill="#000" >0.1</text>
<rect x="36.60" y="185.40" width="3.30" height="1.00" fill="#000" stroke="#fff" stroke-width="0.5" />
<line x1="41.55" y1="163.00" x2="41.55" y2="167.90" stroke="#999" stroke-width="0.45" />
<line x1="40.95" y1="163.00" x2="42.15" y2="163.00" stroke="#999" stroke-width="0.45" />
<rect x="39.90" y="167.90" width="3.30" height="18.50" fill="#000" stroke="#fff" stroke-width="0.5" />
<line x1="44.85" y1="171.80" x2="44.85" y2="178.40" stroke="#999" stroke-width="0.45" />
<line x1="44.25" y1="171.80" x2="45.45" y2="171.80" stroke="#999" stroke-width="0.45" />
<rect x="43.20" y="178.40" width="3.30" height="8.00" fill="#000" stroke="#fff" stroke-width="0.5" />
<rect x="46.50" y="185.30" width="3.30" height="1.10" fill="#000" stroke="#fff" stroke-width="0.5" />
<rect x="53.25" y="185.90" width="3.20" height="0.50" fill="#ebebeb" stroke="#a0a0a0" stroke-width="0.5" />
<line x1="58.55" y1="166.40" x2="58.55" y2="175.50" stroke="#999" stroke-width="0.5" />
<line x1="57.95" y1="166.40" x2="59.15" y2="166.40" stroke="#999" stroke-width="0.5" />
<rect x="56.95" y="175.50" width="3.20" height="10.90" fill="#ebebeb" stroke="#a0a0a0" stroke-width="0.5" />
<line x1="62.25" y1="181.00" x2="62.25" y2="182.80" stroke="#999" stroke-width="0.5" />
<line x1="61.65" y1="181.00" x2="62.85" y2="181.00" stroke="#999" stroke-width="0.5" />
<rect x="60.65" y="182.80" width="3.20" height="3.60" fill="#ebebeb" stroke="#a0a0a0" stroke-width="0.5" />
<rect x="64.35" y="185.60" width="3.20" height="0.80" fill="#ebebeb" stroke="#a0a0a0" stroke-width="0.5" />
<text transform="translate(51.10,198.86) scale(1,1.15)" font-size="5.95" text-anchor="middle" fill="#000" >CCR4</text>
<rect x="83.70" y="131.80" width="3.45" height="54.60" fill="#000" stroke="#fff" stroke-width="0.5" />
<line x1="88.88" y1="157.30" x2="88.88" y2="162.80" stroke="#999" stroke-width="0.45" />
<line x1="88.28" y1="157.30" x2="89.47" y2="157.30" stroke="#999" stroke-width="0.45" />
<rect x="87.15" y="162.80" width="3.45" height="23.60" fill="#000" stroke="#fff" stroke-width="0.5" />
<line x1="92.33" y1="166.60" x2="92.33" y2="175.00" stroke="#999" stroke-width="0.45" />
<line x1="91.73" y1="166.60" x2="92.92" y2="166.60" stroke="#999" stroke-width="0.45" />
<rect x="90.60" y="175.00" width="3.45" height="11.40" fill="#000" stroke="#fff" stroke-width="0.5" />
<line x1="95.78" y1="164.70" x2="95.78" y2="173.70" stroke="#999" stroke-width="0.45" />
<line x1="95.18" y1="164.70" x2="96.38" y2="164.70" stroke="#999" stroke-width="0.45" />
<rect x="94.05" y="173.70" width="3.45" height="12.70" fill="#000" stroke="#fff" stroke-width="0.5" />
<line x1="104.25" y1="163.30" x2="104.25" y2="171.00" stroke="#999" stroke-width="0.5" />
<line x1="103.65" y1="163.30" x2="104.85" y2="163.30" stroke="#999" stroke-width="0.5" />
<rect x="102.55" y="171.00" width="3.40" height="15.40" fill="#ebebeb" stroke="#a0a0a0" stroke-width="0.5" />
<line x1="108.15" y1="160.00" x2="108.15" y2="168.80" stroke="#999" stroke-width="0.5" />
<line x1="107.55" y1="160.00" x2="108.75" y2="160.00" stroke="#999" stroke-width="0.5" />
<rect x="106.45" y="168.80" width="3.40" height="17.60" fill="#ebebeb" stroke="#a0a0a0" stroke-width="0.5" />
<line x1="112.05" y1="170.00" x2="112.05" y2="175.60" stroke="#999" stroke-width="0.5" />
<line x1="111.45" y1="170.00" x2="112.65" y2="170.00" stroke="#999" stroke-width="0.5" />
<rect x="110.35" y="175.60" width="3.40" height="10.80" fill="#ebebeb" stroke="#a0a0a0" stroke-width="0.5" />
<line x1="115.95" y1="176.40" x2="115.95" y2="179.70" stroke="#999" stroke-width="0.5" />
<line x1="115.35" y1="176.40" x2="116.55" y2="176.40" stroke="#999" stroke-width="0.5" />
<rect x="114.25" y="179.70" width="3.40" height="6.70" fill="#ebebeb" stroke="#a0a0a0" stroke-width="0.5" />
<text transform="translate(98.20,198.86) scale(1,1.15)" font-size="5.95" text-anchor="middle" fill="#000" >CXCR4</text>
<rect x="132.90" y="184.60" width="3.45" height="1.80" fill="#000" stroke="#fff" stroke-width="0.5" />
<line x1="138.07" y1="174.20" x2="138.07" y2="178.40" stroke="#999" stroke-width="0.45" />
<line x1="137.47" y1="174.20" x2="138.67" y2="174.20" stroke="#999" stroke-width="0.45" />
<rect x="136.35" y="178.40" width="3.45" height="8.00" fill="#000" stroke="#fff" stroke-width="0.5" />
<line x1="141.53" y1="149.00" x2="141.53" y2="154.50" stroke="#999" stroke-width="0.45" />
<line x1="140.93" y1="149.00" x2="142.12" y2="149.00" stroke="#999" stroke-width="0.45" />
<rect x="139.80" y="154.50" width="3.45" height="31.90" fill="#000" stroke="#fff" stroke-width="0.5" />
<line x1="144.97" y1="162.00" x2="144.97" y2="170.70" stroke="#999" stroke-width="0.45" />
<line x1="144.38" y1="162.00" x2="145.57" y2="162.00" stroke="#999" stroke-width="0.45" />
<rect x="143.25" y="170.70" width="3.45" height="15.70" fill="#000" stroke="#fff" stroke-width="0.5" />
<rect x="150.45" y="182.50" width="3.10" height="3.90" fill="#ebebeb" stroke="#a0a0a0" stroke-width="0.5" />
<rect x="154.05" y="185.20" width="3.10" height="1.20" fill="#ebebeb" stroke="#a0a0a0" stroke-width="0.5" />
<line x1="159.20" y1="175.60" x2="159.20" y2="178.40" stroke="#999" stroke-width="0.5" />
<line x1="158.60" y1="175.60" x2="159.80" y2="175.60" stroke="#999" stroke-width="0.5" />
<rect x="157.65" y="178.40" width="3.10" height="8.00" fill="#ebebeb" stroke="#a0a0a0" stroke-width="0.5" />
<rect x="161.25" y="182.00" width="3.10" height="4.40" fill="#ebebeb" stroke="#a0a0a0" stroke-width="0.5" />
<text transform="translate(146.80,198.86) scale(1,1.15)" font-size="5.95" text-anchor="middle" fill="#000" >CCR5</text>
<rect x="179.50" y="185.60" width="3.40" height="0.80" fill="#000" stroke="#fff" stroke-width="0.5" />
<rect x="182.90" y="185.00" width="3.40" height="1.40" fill="#000" stroke="#fff" stroke-width="0.5" />
<rect x="186.30" y="185.40" width="3.40" height="1.00" fill="#000" stroke="#fff" stroke-width="0.5" />
<rect x="189.70" y="185.90" width="3.40" height="0.50" fill="#000" stroke="#fff" stroke-width="0.5" />
<rect x="195.25" y="186.00" width="3.20" height="0.40" fill="#ebebeb" stroke="#a0a0a0" stroke-width="0.5" />
<rect x="198.95" y="185.60" width="3.20" height="0.80" fill="#ebebeb" stroke="#a0a0a0" stroke-width="0.5" />
<rect x="202.65" y="185.50" width="3.20" height="0.90" fill="#ebebeb" stroke="#a0a0a0" stroke-width="0.5" />
<rect x="206.35" y="185.90" width="3.20" height="0.50" fill="#ebebeb" stroke="#a0a0a0" stroke-width="0.5" />
<text transform="translate(196.90,198.86) scale(1,1.15)" font-size="5.95" text-anchor="middle" fill="#000" >CXCR5</text>
<rect x="226.10" y="185.70" width="3.35" height="0.70" fill="#000" stroke="#fff" stroke-width="0.5" />
<line x1="231.12" y1="174.30" x2="231.12" y2="178.10" stroke="#999" stroke-width="0.45" />
<line x1="230.53" y1="174.30" x2="231.72" y2="174.30" stroke="#999" stroke-width="0.45" />
<rect x="229.45" y="178.10" width="3.35" height="8.30" fill="#000" stroke="#fff" stroke-width="0.5" />
<line x1="234.47" y1="172.30" x2="234.47" y2="178.70" stroke="#999" stroke-width="0.45" />
<line x1="233.88" y1="172.30" x2="235.07" y2="172.30" stroke="#999" stroke-width="0.45" />
<rect x="232.80" y="178.70" width="3.35" height="7.70" fill="#000" stroke="#fff" stroke-width="0.5" />
<line x1="237.83" y1="180.40" x2="237.83" y2="183.40" stroke="#999" stroke-width="0.45" />
<line x1="237.23" y1="180.40" x2="238.43" y2="180.40" stroke="#999" stroke-width="0.45" />
<rect x="236.15" y="183.40" width="3.35" height="3.00" fill="#000" stroke="#fff" stroke-width="0.5" />
<rect x="242.75" y="185.80" width="3.30" height="0.60" fill="#ebebeb" stroke="#a0a0a0" stroke-width="0.5" />
<line x1="248.20" y1="181.00" x2="248.20" y2="184.00" stroke="#999" stroke-width="0.5" />
<line x1="247.60" y1="181.00" x2="248.80" y2="181.00" stroke="#999" stroke-width="0.5" />
<rect x="246.55" y="184.00" width="3.30" height="2.40" fill="#ebebeb" stroke="#a0a0a0" stroke-width="0.5" />
<line x1="252.00" y1="178.10" x2="252.00" y2="181.60" stroke="#999" stroke-width="0.5" />
<line x1="251.40" y1="178.10" x2="252.60" y2="178.10" stroke="#999" stroke-width="0.5" />
<rect x="250.35" y="181.60" width="3.30" height="4.80" fill="#ebebeb" stroke="#a0a0a0" stroke-width="0.5" />
<rect x="254.15" y="185.80" width="3.30" height="0.60" fill="#ebebeb" stroke="#a0a0a0" stroke-width="0.5" />
<text transform="translate(242.00,198.86) scale(1,1.15)" font-size="5.95" text-anchor="middle" fill="#000" >CCR6</text>
<rect x="275.50" y="185.80" width="3.45" height="0.60" fill="#000" stroke="#fff" stroke-width="0.5" />
<rect x="278.95" y="185.80" width="3.45" height="0.60" fill="#000" stroke="#fff" stroke-width="0.5" />
<line x1="284.12" y1="177.50" x2="284.12" y2="181.60" stroke="#999" stroke-width="0.45" />
<line x1="283.52" y1="177.50" x2="284.73" y2="177.50" stroke="#999" stroke-width="0.45" />
<rect x="282.40" y="181.60" width="3.45" height="4.80" fill="#000" stroke="#fff" stroke-width="0.5" />
<rect x="285.85" y="184.80" width="3.45" height="1.60" fill="#000" stroke="#fff" stroke-width="0.5" />
<rect x="293.25" y="185.90" width="3.25" height="0.50" fill="#ebebeb" stroke="#a0a0a0" stroke-width="0.5" />
<rect x="297.00" y="184.50" width="3.25" height="1.90" fill="#ebebeb" stroke="#a0a0a0" stroke-width="0.5" />
<line x1="302.38" y1="178.10" x2="302.38" y2="181.00" stroke="#999" stroke-width="0.5" />
<line x1="301.77" y1="178.10" x2="302.98" y2="178.10" stroke="#999" stroke-width="0.5" />
<rect x="300.75" y="181.00" width="3.25" height="5.40" fill="#ebebeb" stroke="#a0a0a0" stroke-width="0.5" />
<rect x="304.50" y="185.90" width="3.25" height="0.50" fill="#ebebeb" stroke="#a0a0a0" stroke-width="0.5" />
<text transform="translate(290.70,198.86) scale(1,1.15)" font-size="5.95" text-anchor="middle" fill="#000" >CXCR6</text>
<line x1="28.30" y1="203.60" x2="28.30" y2="260.60" stroke="#aaa" stroke-width="0.6" />
<text transform="translate(23.80,206.90) scale(1,1.15)" font-size="5.8" text-anchor="end" fill="#000" >100</text>
<text transform="translate(23.80,218.40) scale(1,1.15)" font-size="5.8" text-anchor="end" fill="#000" >80</text>
<text transform="translate(23.80,229.90) scale(1,1.15)" font-size="5.8" text-anchor="end" fill="#000" >60</text>
<text transform="translate(23.80,241.40) scale(1,1.15)" font-size="5.8" text-anchor="end" fill="#000" >40</text>
<text transform="translate(23.80,252.90) scale(1,1.15)" font-size="5.8" text-anchor="end" fill="#000" >20</text>
<line x1="28.30" y1="260.60" x2="268.00" y2="260.60" stroke="#ccc" stroke-width="0.4" />
<line x1="76.10" y1="260.60" x2="76.10" y2="265.60" stroke="#999" stroke-width="0.6" />
<line x1="125.20" y1="260.60" x2="125.20" y2="265.60" stroke="#999" stroke-width="0.6" />
<line x1="173.10" y1="260.60" x2="173.10" y2="265.60" stroke="#999" stroke-width="0.6" />
<line x1="219.70" y1="260.60" x2="219.70" y2="265.60" stroke="#999" stroke-width="0.6" />
<line x1="268.00" y1="226.00" x2="268.00" y2="260.60" stroke="#ccc" stroke-width="0.6" />
<text transform="translate(271.00,235.60) scale(1,1.15)" font-size="5.8" text-anchor="start" fill="#000" >0.1</text>
<rect x="35.20" y="204.40" width="3.85" height="56.20" fill="#000" stroke="#fff" stroke-width="0.5" />
<rect x="39.05" y="204.40" width="3.85" height="56.20" fill="#000" stroke="#fff" stroke-width="0.5" />
<rect x="42.90" y="260.20" width="3.85" height="0.40" fill="#000" stroke="#fff" stroke-width="0.5" />
<rect x="46.75" y="260.20" width="3.85" height="0.40" fill="#000" stroke="#fff" stroke-width="0.5" />
<line x1="54.25" y1="234.00" x2="54.25" y2="243.20" stroke="#999" stroke-width="0.5" />
<line x1="53.65" y1="234.00" x2="54.85" y2="234.00" stroke="#999" stroke-width="0.5" />
<rect x="52.65" y="243.20" width="3.20" height="17.40" fill="#ebebeb" stroke="#a0a0a0" stroke-width="0.5" />
<line x1="57.95" y1="252.40" x2="57.95" y2="255.70" stroke="#999" stroke-width="0.5" />
<line x1="57.35" y1="252.40" x2="58.55" y2="252.40" stroke="#999" stroke-width="0.5" />
<rect x="56.35" y="255.70" width="3.20" height="4.90" fill="#ebebeb" stroke="#a0a0a0" stroke-width="0.5" />
<rect x="60.05" y="259.60" width="3.20" height="1.00" fill="#ebebeb" stroke="#a0a0a0" stroke-width="0.5" />
<rect x="63.75" y="259.80" width="3.20" height="0.80" fill="#ebebeb" stroke="#a0a0a0" stroke-width="0.5" />
<text transform="translate(51.40,273.06) scale(1,1.15)" font-size="5.95" text-anchor="middle" fill="#000" >CCR7</text>
<rect x="84.00" y="260.40" width="3.50" height="0.20" fill="#000" stroke="#fff" stroke-width="0.5" />
<rect x="87.50" y="260.40" width="3.50" height="0.20" fill="#000" stroke="#fff" stroke-width="0.5" />
<rect x="91.00" y="260.40" width="3.50" height="0.20" fill="#000" stroke="#fff" stroke-width="0.5" />
<rect x="94.50" y="260.40" width="3.50" height="0.20" fill="#000" stroke="#fff" stroke-width="0.5" />
<rect x="101.25" y="260.40" width="3.20" height="0.20" fill="#ebebeb" stroke="#a0a0a0" stroke-width="0.5" />
<rect x="104.95" y="260.40" width="3.20" height="0.20" fill="#ebebeb" stroke="#a0a0a0" stroke-width="0.5" />
<rect x="108.65" y="260.40" width="3.20" height="0.20" fill="#ebebeb" stroke="#a0a0a0" stroke-width="0.5" />
<rect x="112.35" y="260.40" width="3.20" height="0.20" fill="#ebebeb" stroke="#a0a0a0" stroke-width="0.5" />
<text transform="translate(99.50,273.06) scale(1,1.15)" font-size="5.95" text-anchor="middle" fill="#000" >CCR8</text>
<rect x="132.00" y="259.80" width="3.50" height="0.80" fill="#000" stroke="#fff" stroke-width="0.5" />
<rect x="135.50" y="260.30" width="3.50" height="0.30" fill="#000" stroke="#fff" stroke-width="0.5" />
<rect x="139.00" y="260.30" width="3.50" height="0.30" fill="#000" stroke="#fff" stroke-width="0.5" />
<rect x="142.50" y="260.30" width="3.50" height="0.30" fill="#000" stroke="#fff" stroke-width="0.5" />
<rect x="149.25" y="260.30" width="3.20" height="0.30" fill="#ebebeb" stroke="#a0a0a0" stroke-width="0.5" />
<rect x="152.95" y="260.30" width="3.20" height="0.30" fill="#ebebeb" stroke="#a0a0a0" stroke-width="0.5" />
<rect x="156.65" y="260.30" width="3.20" height="0.30" fill="#ebebeb" stroke="#a0a0a0" stroke-width="0.5" />
<rect x="160.35" y="260.30" width="3.20" height="0.30" fill="#ebebeb" stroke="#a0a0a0" stroke-width="0.5" />
<text transform="translate(146.50,273.06) scale(1,1.15)" font-size="5.95" text-anchor="middle" fill="#000" >CCR9</text>
<rect x="179.10" y="259.40" width="3.20" height="1.20" fill="#000" stroke="#fff" stroke-width="0.5" />
<rect x="182.30" y="259.00" width="3.20" height="1.60" fill="#000" stroke="#fff" stroke-width="0.5" />
<line x1="187.10" y1="249.30" x2="187.10" y2="253.70" stroke="#999" stroke-width="0.45" />
<line x1="186.50" y1="249.30" x2="187.70" y2="249.30" stroke="#999" stroke-width="0.45" />
<rect x="185.50" y="253.70" width="3.20" height="6.90" fill="#000" stroke="#fff" stroke-width="0.5" />
<line x1="190.30" y1="226.60" x2="190.30" y2="234.50" stroke="#999" stroke-width="0.45" />
<line x1="189.70" y1="226.60" x2="190.90" y2="226.60" stroke="#999" stroke-width="0.45" />
<rect x="188.70" y="234.50" width="3.20" height="26.10" fill="#000" stroke="#fff" stroke-width="0.5" />
<rect x="194.95" y="259.60" width="3.30" height="1.00" fill="#ebebeb" stroke="#a0a0a0" stroke-width="0.5" />
<rect x="198.75" y="259.00" width="3.30" height="1.60" fill="#ebebeb" stroke="#a0a0a0" stroke-width="0.5" />
<line x1="204.20" y1="252.90" x2="204.20" y2="255.90" stroke="#999" stroke-width="0.5" />
<line x1="203.60" y1="252.90" x2="204.80" y2="252.90" stroke="#999" stroke-width="0.5" />
<rect x="202.55" y="255.90" width="3.30" height="4.70" fill="#ebebeb" stroke="#a0a0a0" stroke-width="0.5" />
<line x1="208.00" y1="236.40" x2="208.00" y2="247.60" stroke="#999" stroke-width="0.5" />
<line x1="207.40" y1="236.40" x2="208.60" y2="236.40" stroke="#999" stroke-width="0.5" />
<rect x="206.35" y="247.60" width="3.30" height="13.00" fill="#ebebeb" stroke="#a0a0a0" stroke-width="0.5" />
<text transform="translate(196.75,273.06) scale(1,1.15)" font-size="5.95" text-anchor="middle" fill="#000" >CX3CR1</text>
<rect x="224.60" y="259.20" width="3.70" height="1.40" fill="#000" stroke="#fff" stroke-width="0.5" />
<rect x="228.30" y="259.20" width="3.70" height="1.40" fill="#000" stroke="#fff" stroke-width="0.5" />
<line x1="233.85" y1="241.10" x2="233.85" y2="247.20" stroke="#999" stroke-width="0.45" />
<line x1="233.25" y1="241.10" x2="234.45" y2="241.10" stroke="#999" stroke-width="0.45" />
<rect x="232.00" y="247.20" width="3.70" height="13.40" fill="#000" stroke="#fff" stroke-width="0.5" />
<line x1="237.55" y1="225.10" x2="237.55" y2="232.80" stroke="#999" stroke-width="0.45" />
<line x1="236.95" y1="225.10" x2="238.15" y2="225.10" stroke="#999" stroke-width="0.45" />
<rect x="235.70" y="232.80" width="3.70" height="27.80" fill="#000" stroke="#fff" stroke-width="0.5" />
<rect x="242.25" y="258.60" width="3.45" height="2.00" fill="#ebebeb" stroke="#a0a0a0" stroke-width="0.5" />
<rect x="246.20" y="257.10" width="3.45" height="3.50" fill="#ebebeb" stroke="#a0a0a0" stroke-width="0.5" />
<line x1="251.88" y1="243.30" x2="251.88" y2="249.90" stroke="#999" stroke-width="0.5" />
<line x1="251.28" y1="243.30" x2="252.47" y2="243.30" stroke="#999" stroke-width="0.5" />
<rect x="250.15" y="249.90" width="3.45" height="10.70" fill="#ebebeb" stroke="#a0a0a0" stroke-width="0.5" />
<line x1="255.82" y1="234.50" x2="255.82" y2="244.40" stroke="#999" stroke-width="0.5" />
<line x1="255.22" y1="234.50" x2="256.43" y2="234.50" stroke="#999" stroke-width="0.5" />
<rect x="254.10" y="244.40" width="3.45" height="16.20" fill="#ebebeb" stroke="#a0a0a0" stroke-width="0.5" />
<text transform="translate(242.25,273.06) scale(1,1.15)" font-size="5.95" text-anchor="middle" fill="#000" >perforin</text>
<text transform="translate(38.35,118.50) scale(1,1.15)" font-size="5.8" text-anchor="middle" fill="#000" >1</text>
<text transform="translate(55.80,118.50) scale(1,1.15)" font-size="5.8" text-anchor="middle" fill="#000" >1</text>
<text transform="translate(42.05,118.50) scale(1,1.15)" font-size="5.8" text-anchor="middle" fill="#000" >2</text>
<text transform="translate(59.40,118.50) scale(1,1.15)" font-size="5.8" text-anchor="middle" fill="#000" >2</text>
<text transform="translate(45.75,118.50) scale(1,1.15)" font-size="5.8" text-anchor="middle" fill="#000" >3</text>
<text transform="translate(63.00,118.50) scale(1,1.15)" font-size="5.8" text-anchor="middle" fill="#000" >3</text>
<text transform="translate(49.45,118.50) scale(1,1.15)" font-size="5.8" text-anchor="middle" fill="#000" >4</text>
<text transform="translate(66.60,118.50) scale(1,1.15)" font-size="5.8" text-anchor="middle" fill="#000" >4</text>
<text transform="translate(158.00,109.60) scale(1,1.15)" font-size="5.8" text-anchor="start" fill="#000" >n.d.</text>
<text transform="translate(91.50,259.60) scale(1,1.15)" font-size="5.8" text-anchor="start" fill="#000" >n.d.</text>
<text transform="translate(5.8,199.0) rotate(-90) scale(1,1.0)" font-size="5.98">% positive CD8 T cells</text>
<text transform="translate(334.8,201.2) rotate(-90) scale(1,1.0)" font-size="6.06">copies / copies GAPDH</text>
<text transform="translate(346.60,12.50) scale(1,1)" font-size="16.4" text-anchor="start" font-weight="bold" fill="#000" >B</text>
<text transform="translate(377.00,15.70) scale(1,0.97)" font-size="6.0" text-anchor="middle" fill="#000" >naive</text>
<text transform="translate(417.20,15.70) scale(1,0.97)" font-size="6.0" text-anchor="middle" fill="#000" >CM</text>
<text transform="translate(459.60,15.70) scale(1,0.97)" font-size="6.0" text-anchor="middle" fill="#000" >EM</text>
<text transform="translate(502.40,15.70) scale(1,0.97)" font-size="6.0" text-anchor="middle" fill="#000" >EMRA</text>
<polygon points="358.2,49.1 358.20,44.90 358.80,44.20 359.40,44.10 360.00,42.53 360.60,42.80 361.23,40.39 361.87,40.36 362.50,38.50 363.10,36.03 363.70,36.31 364.30,34.10 364.90,32.10 365.50,31.00 366.20,29.80 366.80,29.50 367.40,30.00 368.00,31.70 368.65,34.76 369.30,39.00 369.90,42.68 370.50,46.00 371.15,46.59 371.80,47.50 372.35,47.71 372.90,47.69 373.45,48.19 374.00,48.20 374.54,48.23 375.08,48.45 375.62,48.36 376.16,48.58 376.70,48.60 376.7,49.1" fill="#000"/>
<rect x="357.60" y="22.20" width="36.90" height="26.90" fill="none" stroke="#8a8a8a" stroke-width="0.6" />
<polygon points="399.4,49.1 399.40,34.40 399.90,34.40 400.30,44.90 400.80,44.50 401.33,44.43 401.87,42.13 402.40,41.30 402.93,39.84 403.47,40.17 404.00,40.00 404.70,37.50 405.60,34.40 406.50,31.50 407.20,30.60 407.80,30.40 408.40,31.00 409.00,32.90 409.90,39.10 410.40,42.51 410.90,45.30 411.50,46.13 412.10,47.50 412.73,47.76 413.37,47.80 414.00,48.20 414.50,48.27 415.00,48.42 415.50,48.42 416.00,48.56 416.50,48.60 416.5,49.1" fill="#000"/>
<rect x="399.30" y="22.20" width="36.50" height="26.90" fill="none" stroke="#8a8a8a" stroke-width="0.6" />
<polygon points="441.2,49.1 441.20,33.60 441.80,33.60 442.20,44.50 442.80,44.00 443.60,41.00 444.40,38.40 444.95,36.05 445.50,35.40 446.00,32.80 446.60,31.92 447.20,29.60 448.00,27.00 448.60,26.10 449.30,26.60 449.80,28.00 450.40,30.87 451.00,35.40 451.65,40.63 452.30,44.00 452.90,46.03 453.50,46.70 454.02,47.20 454.53,46.99 455.05,46.95 455.57,47.13 456.08,47.53 456.60,47.50 457.10,47.61 457.60,47.94 458.10,47.64 458.60,47.93 459.10,48.19 459.60,48.19 460.10,48.28 460.60,48.27 461.10,48.41 461.60,48.60 461.6,49.1" fill="#000"/>
<rect x="441.10" y="22.20" width="36.40" height="26.90" fill="none" stroke="#8a8a8a" stroke-width="0.6" />
<polygon points="483.0,49.1 483.00,47.70 483.50,47.20 484.00,47.00 484.50,46.98 485.00,46.61 485.50,45.55 486.00,45.50 486.50,45.43 487.00,43.13 487.50,43.46 488.00,42.50 488.50,42.03 489.00,39.16 489.50,38.00 490.00,36.48 490.50,33.00 491.00,30.84 491.50,28.00 492.30,24.20 493.00,27.00 493.50,29.51 494.00,34.00 494.50,36.13 495.00,39.00 495.53,40.59 496.07,41.84 496.60,44.10 497.30,42.50 497.90,42.28 498.50,41.00 499.13,40.09 499.77,41.23 500.40,40.40 500.93,40.16 501.47,39.85 502.00,41.00 502.50,41.38 503.00,41.50 503.50,40.86 504.00,42.00 504.65,44.10 505.30,46.00 505.80,47.07 506.30,47.72 506.80,48.50 507.35,48.59 507.90,48.63 508.45,48.80 509.00,48.90 509.0,49.1" fill="#000"/>
<rect x="482.90" y="22.20" width="36.60" height="26.90" fill="none" stroke="#8a8a8a" stroke-width="0.6" />
<polygon points="357.9,93.4 357.90,84.10 358.60,82.61 359.30,82.90 359.95,81.97 360.60,80.40 361.20,78.94 361.80,79.10 362.45,78.57 363.10,77.70 363.70,78.73 364.30,80.40 364.95,82.27 365.60,84.70 366.20,86.96 366.80,88.50 367.40,89.64 368.00,91.60 368.65,91.94 369.30,92.60 369.84,92.78 370.38,92.68 370.92,92.86 371.46,92.92 372.00,92.90 372.50,92.88 373.00,92.81 373.50,92.78 374.00,92.93 374.50,92.76 375.00,92.82 375.50,92.82 376.00,92.80 376.50,92.75 377.00,92.86 377.50,92.84 378.00,92.94 378.50,92.97 379.00,93.00 379.55,93.00 380.10,92.99 380.65,93.04 381.20,93.03 381.75,93.04 382.30,93.10 382.3,93.4" fill="#000"/>
<rect x="357.60" y="66.20" width="36.90" height="27.20" fill="none" stroke="#8a8a8a" stroke-width="0.6" />
<polygon points="399.4,93.4 399.40,75.40 399.90,75.40 400.30,86.00 400.95,84.78 401.60,84.70 402.23,84.48 402.87,82.64 403.50,81.60 404.10,81.21 404.70,79.10 405.20,76.48 405.70,76.00 406.60,80.40 407.20,83.88 407.80,85.40 408.40,87.22 409.00,89.10 409.65,89.29 410.30,88.50 410.80,88.63 411.30,88.84 411.80,88.01 412.30,88.95 412.80,88.50 413.40,86.94 414.00,86.31 414.60,86.00 415.23,84.13 415.87,84.10 416.50,83.50 417.10,83.09 417.70,82.60 418.35,83.19 419.00,84.70 419.60,87.03 420.20,86.75 420.80,89.10 421.43,90.23 422.07,90.95 422.70,92.20 423.27,92.39 423.85,92.59 424.43,92.71 425.00,92.80 425.55,92.76 426.10,92.85 426.65,92.97 427.20,93.07 427.75,92.99 428.30,93.10 428.3,93.4" fill="#000"/>
<rect x="399.30" y="66.20" width="36.50" height="27.20" fill="none" stroke="#8a8a8a" stroke-width="0.6" />
<polygon points="441.2,93.4 441.20,76.70 441.70,76.70 442.10,87.80 442.60,87.26 443.10,86.62 443.60,85.40 444.20,84.19 444.80,81.60 445.30,80.00 445.80,79.10 446.40,76.00 447.30,80.40 447.95,82.63 448.60,83.50 449.20,85.27 449.80,87.20 450.40,88.71 451.00,88.50 451.50,87.53 452.00,89.17 452.50,88.11 453.00,88.20 453.50,88.23 454.00,87.87 454.50,88.37 455.00,89.00 455.50,89.16 456.00,88.85 456.50,88.30 457.20,88.10 457.90,89.10 458.50,89.86 459.10,91.00 459.60,91.02 460.10,91.40 460.60,91.75 461.10,92.13 461.60,92.50 462.10,92.76 462.60,92.86 463.10,92.92 463.60,92.98 464.10,93.10 464.1,93.4" fill="#000"/>
<rect x="441.10" y="66.20" width="36.40" height="27.20" fill="none" stroke="#8a8a8a" stroke-width="0.6" />
<polygon points="483.1,93.4 483.10,78.50 483.60,78.50 484.00,89.10 484.50,88.66 485.00,88.76 485.50,87.80 486.10,87.90 486.70,86.75 487.30,85.40 487.95,83.80 488.60,81.60 489.10,78.99 489.60,77.70 490.40,81.60 490.90,84.98 491.40,87.80 492.05,90.43 492.70,92.20 493.27,92.46 493.85,92.37 494.43,92.71 495.00,92.80 495.50,92.80 496.00,92.80 496.50,92.99 497.00,92.96 497.50,93.01 498.00,93.00 498.51,92.96 499.03,93.07 499.54,93.10 500.06,93.11 500.57,93.10 501.09,93.12 501.60,93.10 501.6,93.4" fill="#000"/>
<rect x="482.90" y="66.20" width="36.60" height="27.20" fill="none" stroke="#8a8a8a" stroke-width="0.6" />
<polygon points="347.7,38.8 353.3,38.8 350.5,33" fill="#000"/>
<line x1="350.50" y1="38.80" x2="350.50" y2="59.50" stroke="#777" stroke-width="0.5" />
<text transform="translate(352.4,83.5) rotate(-90) scale(1,1.15)" font-size="5.5">counts</text>
<text transform="translate(357.60,58.98) scale(1,1.08)" font-size="5.6" text-anchor="start" fill="#000" >CXCR1</text>
<text transform="translate(379.20,58.99) scale(1,0.92)" font-size="4.5" text-anchor="start" fill="#000" style="stroke-width:0.1px">(log10 fluorescence)</text>
<line x1="423.00" y1="56.60" x2="505.00" y2="56.60" stroke="#777" stroke-width="0.5" />
<polygon points="504.4,53.9 504.4,59.3 510.6,56.6" fill="#000"/>
<text transform="translate(357.60,103.86) scale(1,1.12)" font-size="5.6" text-anchor="start" fill="#000" >CCR4</text>
<text transform="translate(377.10,103.99) scale(1,0.92)" font-size="4.5" text-anchor="start" fill="#000" style="stroke-width:0.1px">(log10 fluorescence)</text>
<line x1="419.00" y1="101.60" x2="505.50" y2="101.60" stroke="#777" stroke-width="0.5" />
<polygon points="504.6,98.9 504.6,104.3 510.6,101.6" fill="#000"/>
<text transform="translate(346.60,128.80) scale(1,1)" font-size="16.4" text-anchor="start" font-weight="bold" fill="#000" >C</text>
<text transform="translate(361.60,206.54) scale(1,0.88)" font-size="5.8" text-anchor="end" fill="#000" >0</text>
<text transform="translate(361.60,191.64) scale(1,0.88)" font-size="5.8" text-anchor="end" fill="#000" >10</text>
<text transform="translate(361.60,176.74) scale(1,0.88)" font-size="5.8" text-anchor="end" fill="#000" >20</text>
<text transform="translate(361.60,161.84) scale(1,0.88)" font-size="5.8" text-anchor="end" fill="#000" >30</text>
<text transform="translate(361.60,146.94) scale(1,0.88)" font-size="5.8" text-anchor="end" fill="#000" >40</text>
<line x1="366.10" y1="145.00" x2="366.10" y2="203.80" stroke="#aaa" stroke-width="0.6" />
<line x1="366.10" y1="203.80" x2="455.00" y2="203.80" stroke="#aaa" stroke-width="0.6" />
<text transform="translate(352.1,189.0) rotate(-90) scale(1,1.05)" font-size="6.0">% CXCR1<tspan font-size="4" dy="-1.6">+</tspan></text>
<rect x="372.70" y="197.50" width="9.50" height="6.30" fill="#9a9a9a" stroke="#777" stroke-width="0.5" />
<line x1="377.45" y1="194.50" x2="377.45" y2="200.90" stroke="#666" stroke-width="0.5" />
<line x1="376.65" y1="194.50" x2="378.25" y2="194.50" stroke="#666" stroke-width="0.5" />
<rect x="393.70" y="158.40" width="10.30" height="45.40" fill="#9a9a9a" stroke="#777" stroke-width="0.5" />
<line x1="398.85" y1="143.80" x2="398.85" y2="173.20" stroke="#666" stroke-width="0.5" />
<line x1="398.05" y1="143.80" x2="399.65" y2="143.80" stroke="#666" stroke-width="0.5" />
<rect x="421.00" y="198.80" width="10.20" height="5.00" fill="#9a9a9a" stroke="#777" stroke-width="0.5" />
<line x1="426.10" y1="195.00" x2="426.10" y2="201.50" stroke="#666" stroke-width="0.5" />
<line x1="425.30" y1="195.00" x2="426.90" y2="195.00" stroke="#666" stroke-width="0.5" />
<rect x="442.70" y="173.20" width="10.20" height="30.60" fill="#9a9a9a" stroke="#777" stroke-width="0.5" />
<line x1="447.80" y1="168.60" x2="447.80" y2="180.40" stroke="#666" stroke-width="0.5" />
<line x1="447.00" y1="168.60" x2="448.60" y2="168.60" stroke="#666" stroke-width="0.5" />
<text transform="translate(375.30,135.20) scale(1,0.88)" font-size="6.0" text-anchor="start" fill="#000" ><tspan font-style="italic">P</tspan> &lt; .005</text>
<polyline points="377.5,143.4 377.5,137.5 399,137.5 399,143.4" fill="none" stroke="#aaa" stroke-width="0.5" stroke-dasharray="0.8,0.5"/>
<text transform="translate(423.50,159.60) scale(1,0.88)" font-size="6.0" text-anchor="start" fill="#000" ><tspan font-style="italic">P</tspan> &lt; .005</text>
<polyline points="425,166.9 425,162.5 447.3,162.5 447.3,166.9" fill="none" stroke="#aaa" stroke-width="0.5" stroke-dasharray="0.8,0.5"/>
<text transform="translate(368.90,214.17) scale(1,0.88)" font-size="5.9" text-anchor="start" fill="#000" >CD27<tspan font-size="3.8" dy="-1.5">+</tspan></text>
<text transform="translate(390.70,214.17) scale(1,0.88)" font-size="5.9" text-anchor="start" fill="#000" >CD27<tspan font-size="3.8" dy="-1.5">-</tspan></text>
<text transform="translate(417.50,214.17) scale(1,0.88)" font-size="5.9" text-anchor="start" fill="#000" >CD28<tspan font-size="3.8" dy="-1.5">+</tspan></text>
<text transform="translate(439.90,214.17) scale(1,0.88)" font-size="5.9" text-anchor="start" fill="#000" >CD28<tspan font-size="3.8" dy="-1.5">-</tspan></text>
<line x1="376.90" y1="219.50" x2="447.70" y2="219.50" stroke="#aaa" stroke-width="0.5" />
<text transform="translate(412.10,227.12) scale(1,1.0)" font-size="5.9" text-anchor="middle" fill="#000" >CD8 T cells</text>
</svg>
</body></html>
